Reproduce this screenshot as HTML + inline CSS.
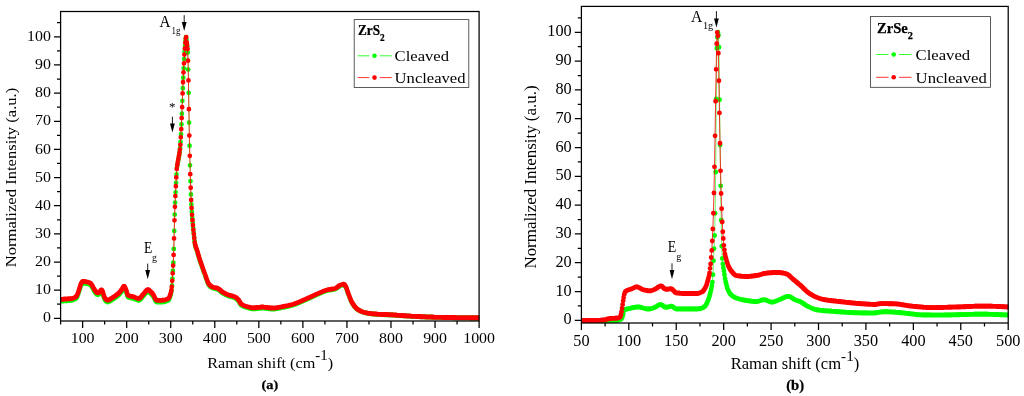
<!DOCTYPE html>
<html lang="en"><head><meta charset="utf-8"><title>Raman spectra of ZrS2 and ZrSe2</title>
<style>html,body{margin:0;padding:0;background:#fff}svg{display:block;will-change:transform}</style></head>
<body>
<svg width="1024" height="396" viewBox="0 0 1024 396" font-family='"Liberation Serif", "DejaVu Serif", serif' fill="#000">
<rect width="1024" height="396" fill="#fff"/>
<defs><clipPath id="ca"><rect x="60.6" y="11.5" width="418.80" height="309.50"/></clipPath><clipPath id="cb"><rect x="581.4" y="6.4" width="427.10" height="316.60"/></clipPath></defs>
<g clip-path="url(#ca)">
<polyline points="60.86,301.17 61.31,301.15 61.76,301.12 62.21,301.09 62.66,301.06 63.11,301.03 63.56,301.00 64.01,300.97 64.46,300.94 64.91,300.91 65.36,300.88 65.81,300.85 66.26,300.82 66.71,300.79 67.16,300.76 67.61,300.73 68.06,300.69 68.51,300.66 68.96,300.62 69.41,300.58 69.86,300.54 70.31,300.49 70.76,300.43 71.21,300.37 71.66,300.30 72.11,300.21 72.56,300.11 73.01,299.98 73.46,299.83 73.91,299.66 74.36,299.45 74.81,299.22 75.26,298.96 75.71,298.67 76.16,298.34 76.61,297.87 77.06,297.03 77.51,295.96 77.96,294.81 78.41,293.55 78.86,292.07 79.31,290.55 79.76,289.15 80.21,287.72 80.66,286.36 81.11,285.30 81.56,284.54 82.01,283.86 82.46,283.36 82.91,283.17 83.36,283.18 83.81,283.22 84.26,283.27 84.71,283.33 85.16,283.40 85.61,283.48 86.06,283.57 86.51,283.65 86.96,283.73 87.41,283.83 87.86,283.94 88.31,284.06 88.76,284.20 89.21,284.36 89.66,284.54 90.11,284.76 90.56,285.04 91.01,285.53 91.46,286.17 91.91,286.89 92.36,287.61 92.81,288.38 93.26,289.27 93.71,290.17 94.16,290.98 94.61,291.62 95.06,292.25 95.51,292.88 95.96,293.47 96.41,293.98 96.86,294.38 97.31,294.63 97.76,294.71 98.21,294.64 98.66,294.47 99.11,294.24 99.56,293.96 100.01,293.51 100.46,292.69 100.91,291.90 101.36,291.62 101.81,291.90 102.26,292.49 102.71,293.23 103.16,294.64 103.61,296.48 104.06,298.09 104.51,299.00 104.96,299.73 105.41,300.39 105.86,300.97 106.31,301.45 106.76,301.79 107.21,301.99 107.66,302.02 108.11,301.96 108.56,301.84 109.01,301.67 109.46,301.44 109.91,301.19 110.36,300.91 110.81,300.61 111.26,300.30 111.71,300.00 112.16,299.71 112.61,299.43 113.06,299.16 113.51,298.88 113.96,298.60 114.41,298.31 114.86,298.02 115.31,297.71 115.76,297.39 116.21,297.07 116.66,296.73 117.11,296.37 117.56,296.00 118.01,295.62 118.46,295.22 118.91,294.80 119.36,294.34 119.81,293.84 120.26,293.28 120.71,292.69 121.16,292.08 121.61,291.45 122.06,290.82 122.51,290.16 122.96,289.30 123.41,288.47 123.86,287.99 124.31,288.09 124.76,288.67 125.21,289.55 125.66,290.54 126.11,291.55 126.56,292.99 127.01,294.60 127.46,296.02 127.91,296.89 128.36,297.17 128.81,297.38 129.26,297.57 129.71,297.72 130.16,297.85 130.61,297.95 131.06,298.05 131.51,298.13 131.96,298.22 132.41,298.31 132.86,298.40 133.31,298.51 133.76,298.64 134.21,298.79 134.66,298.97 135.11,299.17 135.56,299.38 136.01,299.58 136.46,299.78 136.91,299.96 137.36,300.11 137.81,300.24 138.26,300.31 138.71,300.34 139.16,300.26 139.61,300.05 140.06,299.73 140.51,299.31 140.96,298.83 141.41,298.29 141.86,297.73 142.31,297.15 142.76,296.59 143.21,296.07 143.66,295.59 144.11,295.13 144.56,294.60 145.01,294.04 145.46,293.46 145.91,292.90 146.36,292.39 146.81,291.95 147.26,291.61 147.71,291.40 148.16,291.33 148.61,291.50 149.06,291.86 149.51,292.32 149.96,292.79 150.41,293.21 150.86,293.62 151.31,294.05 151.76,294.50 152.21,294.99 152.66,295.51 153.11,296.14 153.56,296.94 154.01,297.85 154.46,298.81 154.91,299.74 155.36,300.59 155.81,301.30 156.26,301.80 156.71,302.02 157.16,302.03 157.61,302.03 158.06,302.03 158.51,302.03 158.96,302.03 159.41,302.03 159.86,302.03 160.31,302.03 160.76,302.03 161.21,302.03 161.66,302.03 162.11,302.02 162.56,302.00 163.01,301.96 163.46,301.91 163.91,301.84 164.36,301.76 164.81,301.66 165.26,301.55 165.71,301.42 166.16,301.27 166.61,301.10 167.06,300.92 167.51,300.73 167.96,300.51 168.41,300.23 168.86,299.68 169.31,298.82 169.76,297.70 170.21,296.37 170.66,294.88 171.11,293.09 171.56,290.37 172.01,285.69 172.46,278.60 172.91,270.90 173.36,262.64 173.81,248.95 174.26,230.92 174.71,214.57 175.16,202.53 175.61,192.32 176.06,182.83 176.51,174.39 176.96,167.55 177.41,165.04 177.86,162.70 178.31,160.13 178.76,157.58 179.21,155.08 179.66,152.04 180.11,148.08 180.56,141.91 181.01,134.22 181.46,124.46 181.91,113.63 182.36,100.81 182.81,88.26 183.26,77.77 183.71,68.37 184.16,59.11 184.61,51.64 185.06,45.79 185.51,40.70 185.96,37.14 186.41,39.68 186.86,43.66 187.31,46.82 187.76,52.54 188.21,69.58 188.66,92.85 189.11,122.54 189.56,145.66 190.01,165.35 190.46,181.13 190.91,194.45 191.36,204.43 191.81,211.78 192.26,217.99 192.71,222.99 193.16,228.12 193.61,232.53 194.06,236.66 194.51,240.97 194.96,244.48 195.41,246.35 195.86,247.77 196.31,249.12 196.76,250.34 197.21,251.68 197.66,253.17 198.11,254.73 198.56,256.32 199.01,257.88 199.46,259.36 199.91,260.76 200.36,262.11 200.81,263.43 201.26,264.73 201.71,266.01 202.16,267.27 202.61,268.54 203.06,269.81 203.51,271.09 203.96,272.38 204.41,273.68 204.86,274.98 205.31,276.26 205.76,277.51 206.21,278.72 206.66,279.93 207.11,281.21 207.56,282.44 208.01,283.53 208.46,284.40 208.91,285.00 209.36,285.55 209.81,286.04 210.26,286.49 210.71,286.88 211.16,287.23 211.61,287.54 212.06,287.80 212.51,288.01 212.96,288.18 213.41,288.33 213.86,288.45 214.31,288.56 214.76,288.66 215.21,288.75 215.66,288.84 216.11,288.94 216.56,289.05 217.01,289.17 217.46,289.32 217.91,289.49 218.36,289.72 218.81,290.01 219.26,290.34 219.71,290.70 220.16,291.09 220.61,291.50 221.06,291.90 221.51,292.30 221.96,292.68 222.41,293.03 222.86,293.33 223.31,293.60 223.76,293.86 224.21,294.11 224.66,294.35 225.11,294.58 225.56,294.80 226.01,295.02 226.46,295.22 226.91,295.42 227.36,295.61 227.81,295.80 228.26,295.97 228.71,296.13 229.16,296.28 229.61,296.41 230.06,296.54 230.51,296.65 230.96,296.76 231.41,296.87 231.86,296.99 232.31,297.10 232.76,297.23 233.21,297.36 233.66,297.50 234.11,297.67 234.56,297.85 235.01,298.05 235.46,298.30 235.91,298.60 236.36,298.94 236.81,299.31 237.26,299.72 237.71,300.16 238.16,300.62 238.61,301.19 239.06,301.90 239.51,302.67 239.96,303.46 240.41,304.19 240.86,304.82 241.31,305.28 241.76,305.58 242.21,305.85 242.66,306.09 243.11,306.32 243.56,306.52 244.01,306.70 244.46,306.87 244.91,307.03 245.36,307.17 245.81,307.31 246.26,307.44 246.71,307.57 247.16,307.70 247.61,307.83 248.06,307.96 248.51,308.10 248.96,308.22 249.41,308.35 249.86,308.46 250.31,308.57 250.76,308.67 251.21,308.76 251.66,308.83 252.11,308.88 252.56,308.92 253.01,308.94 253.46,308.93 253.91,308.92 254.36,308.90 254.81,308.87 255.26,308.83 255.71,308.79 256.16,308.75 256.61,308.70 257.06,308.65 257.51,308.59 257.96,308.54 258.41,308.49 258.86,308.43 259.31,308.38 259.76,308.34 260.21,308.29 260.66,308.26 261.11,308.23 261.56,308.20 262.01,308.19 262.46,308.18 262.91,308.18 263.36,308.20 263.81,308.22 264.26,308.25 264.71,308.29 265.16,308.33 265.61,308.38 266.06,308.44 266.51,308.49 266.96,308.55 267.41,308.61 267.86,308.67 268.31,308.73 268.76,308.79 269.21,308.85 269.66,308.90 270.11,308.95 270.56,308.99 271.01,309.03 271.46,309.06 271.91,309.09 272.36,309.10 272.81,309.11 273.26,309.10 273.71,309.08 274.16,309.05 274.61,309.02 275.06,308.97 275.51,308.91 275.96,308.85 276.41,308.78 276.86,308.70 277.31,308.62 277.76,308.54 278.21,308.45 278.66,308.36 279.11,308.26 279.56,308.17 280.01,308.07 280.46,307.98 280.91,307.88 281.36,307.79 281.81,307.70 282.26,307.62 282.71,307.53 283.16,307.44 283.61,307.36 284.06,307.27 284.51,307.17 284.96,307.08 285.41,306.99 285.86,306.89 286.31,306.79 286.76,306.69 287.21,306.59 287.66,306.48 288.11,306.38 288.56,306.27 289.01,306.16 289.46,306.05 289.91,305.93 290.36,305.82 290.81,305.70 291.26,305.58 291.71,305.45 292.16,305.33 292.61,305.20 293.06,305.06 293.51,304.93 293.96,304.79 294.41,304.64 294.86,304.48 295.31,304.33 295.76,304.16 296.21,303.99 296.66,303.82 297.11,303.64 297.56,303.46 298.01,303.28 298.46,303.09 298.91,302.90 299.36,302.71 299.81,302.52 300.26,302.32 300.71,302.12 301.16,301.92 301.61,301.72 302.06,301.52 302.51,301.32 302.96,301.12 303.41,300.92 303.86,300.72 304.31,300.52 304.76,300.32 305.21,300.12 305.66,299.92 306.11,299.72 306.56,299.53 307.01,299.33 307.46,299.13 307.91,298.93 308.36,298.73 308.81,298.53 309.26,298.32 309.71,298.11 310.16,297.90 310.61,297.69 311.06,297.48 311.51,297.27 311.96,297.06 312.41,296.85 312.86,296.64 313.31,296.43 313.76,296.22 314.21,296.01 314.66,295.80 315.11,295.59 315.56,295.38 316.01,295.18 316.46,294.97 316.91,294.77 317.36,294.57 317.81,294.37 318.26,294.17 318.71,293.97 319.16,293.78 319.61,293.59 320.06,293.40 320.51,293.20 320.96,293.00 321.41,292.80 321.86,292.60 322.31,292.40 322.76,292.20 323.21,292.01 323.66,291.82 324.11,291.63 324.56,291.45 325.01,291.28 325.46,291.11 325.91,290.96 326.36,290.82 326.81,290.68 327.26,290.56 327.71,290.46 328.16,290.36 328.61,290.28 329.06,290.20 329.51,290.13 329.96,290.06 330.41,290.00 330.86,289.93 331.31,289.87 331.76,289.81 332.21,289.74 332.66,289.67 333.11,289.60 333.56,289.51 334.01,289.42 334.46,289.32 334.91,289.20 335.36,289.07 335.81,288.87 336.26,288.61 336.71,288.31 337.16,287.97 337.61,287.62 338.06,287.25 338.51,286.89 338.96,286.54 339.41,286.23 339.86,285.96 340.31,285.75 340.76,285.59 341.21,285.42 341.66,285.27 342.11,285.13 342.56,285.01 343.01,284.92 343.46,284.87 343.91,284.90 344.36,285.21 344.81,285.74 345.26,286.40 345.71,287.10 346.16,287.97 346.61,289.12 347.06,290.43 347.51,291.80 347.96,293.13 348.41,294.32 348.86,295.48 349.31,296.65 349.76,297.82 350.21,298.96 350.66,300.07 351.11,301.10 351.56,302.05 352.01,302.89 352.46,303.62 352.91,304.32 353.36,304.99 353.81,305.63 354.26,306.24 354.71,306.81 355.16,307.35 355.61,307.86 356.06,308.32 356.51,308.74 356.96,309.12 357.41,309.45 357.86,309.75 358.31,310.03 358.76,310.30 359.21,310.55 359.66,310.79 360.11,311.02 360.56,311.25 361.01,311.47 361.46,311.66 361.91,311.85 362.36,312.02 362.81,312.18 363.26,312.32 363.71,312.45 364.16,312.56 364.61,312.67 365.06,312.78 365.51,312.88 365.96,312.97 366.41,313.07 366.86,313.16 367.31,313.25 367.76,313.33 368.21,313.41 368.66,313.48 369.11,313.56 369.56,313.63 370.01,313.69 370.46,313.76 370.91,313.82 371.36,313.88 371.81,313.93 372.26,313.98 372.71,314.03 373.16,314.07 373.61,314.12 374.06,314.16 374.51,314.19 374.96,314.23 375.41,314.26 375.86,314.29 376.31,314.32 376.76,314.35 377.21,314.38 377.66,314.41 378.11,314.43 378.56,314.46 379.01,314.48 379.46,314.50 379.91,314.52 380.36,314.54 380.81,314.56 381.26,314.58 381.71,314.60 382.16,314.62 382.61,314.64 383.06,314.66 383.51,314.67 383.96,314.69 384.41,314.71 384.86,314.73 385.31,314.74 385.76,314.76 386.21,314.78 386.66,314.80 387.11,314.81 387.56,314.83 388.01,314.85 388.46,314.87 388.91,314.89 389.36,314.91 389.81,314.93 390.26,314.95 390.71,314.98 391.16,315.00 391.61,315.03 392.06,315.05 392.51,315.08 392.96,315.11 393.41,315.13 393.86,315.16 394.31,315.19 394.76,315.22 395.21,315.25 395.66,315.28 396.11,315.31 396.56,315.35 397.01,315.38 397.46,315.41 397.91,315.44 398.36,315.48 398.81,315.51 399.26,315.54 399.71,315.58 400.16,315.61 400.61,315.64 401.06,315.68 401.51,315.71 401.96,315.74 402.41,315.77 402.86,315.81 403.31,315.84 403.76,315.87 404.21,315.90 404.66,315.94 405.11,315.97 405.56,316.00 406.01,316.03 406.46,316.06 406.91,316.09 407.36,316.12 407.81,316.14 408.26,316.17 408.71,316.20 409.16,316.22 409.61,316.25 410.06,316.27 410.51,316.30 410.96,316.32 411.41,316.35 411.86,316.37 412.31,316.39 412.76,316.42 413.21,316.44 413.66,316.46 414.11,316.49 414.56,316.51 415.01,316.53 415.46,316.56 415.91,316.58 416.36,316.60 416.81,316.62 417.26,316.65 417.71,316.67 418.16,316.69 418.61,316.71 419.06,316.74 419.51,316.76 419.96,316.78 420.41,316.80 420.86,316.82 421.31,316.84 421.76,316.86 422.21,316.88 422.66,316.90 423.11,316.92 423.56,316.94 424.01,316.96 424.46,316.98 424.91,317.00 425.36,317.02 425.81,317.04 426.26,317.06 426.71,317.07 427.16,317.09 427.61,317.11 428.06,317.13 428.51,317.14 428.96,317.16 429.41,317.17 429.86,317.19 430.31,317.20 430.76,317.22 431.21,317.23 431.66,317.25 432.11,317.26 432.56,317.27 433.01,317.29 433.46,317.30 433.91,317.31 434.36,317.32 434.81,317.33 435.26,317.35 435.71,317.36 436.16,317.37 436.61,317.38 437.06,317.39 437.51,317.40 437.96,317.41 438.41,317.42 438.86,317.43 439.31,317.44 439.76,317.45 440.21,317.46 440.66,317.47 441.11,317.48 441.56,317.49 442.01,317.51 442.46,317.52 442.91,317.53 443.36,317.54 443.81,317.55 444.26,317.56 444.71,317.57 445.16,317.58 445.61,317.59 446.06,317.60 446.51,317.61 446.96,317.62 447.41,317.63 447.86,317.64 448.31,317.65 448.76,317.66 449.21,317.67 449.66,317.68 450.11,317.68 450.56,317.69 451.01,317.70 451.46,317.71 451.91,317.72 452.36,317.73 452.81,317.74 453.26,317.75 453.71,317.76 454.16,317.77 454.61,317.77 455.06,317.78 455.51,317.79 455.96,317.80 456.41,317.81 456.86,317.81 457.31,317.82 457.76,317.83 458.21,317.84 458.66,317.85 459.11,317.85 459.56,317.86 460.01,317.87 460.46,317.87 460.91,317.88 461.36,317.89 461.81,317.89 462.26,317.90 462.71,317.91 463.16,317.91 463.61,317.92 464.06,317.92 464.51,317.93 464.96,317.94 465.41,317.94 465.86,317.95 466.31,317.95 466.76,317.96 467.21,317.96 467.66,317.97 468.11,317.97 468.56,317.97 469.01,317.98 469.46,317.98 469.91,317.99 470.36,317.99 470.81,317.99 471.26,318.00 471.71,318.00 472.16,318.00 472.61,318.00 473.06,318.01 473.51,318.01 473.96,318.01 474.41,318.01 474.86,318.01 475.31,318.02 475.76,318.02 476.21,318.02 476.66,318.02 477.11,318.02 477.56,318.02 478.01,318.02 478.46,318.02 478.91,318.02" fill="none" stroke="#00ff00" stroke-width="0.5" stroke-linejoin="round"/>
<path d="M60.86 301.17h0M61.31 301.15h0M61.76 301.12h0M62.21 301.09h0M62.66 301.06h0M63.11 301.03h0M63.56 301.00h0M64.01 300.97h0M64.46 300.94h0M64.91 300.91h0M65.36 300.88h0M65.81 300.85h0M66.26 300.82h0M66.71 300.79h0M67.16 300.76h0M67.61 300.73h0M68.06 300.69h0M68.51 300.66h0M68.96 300.62h0M69.41 300.58h0M69.86 300.54h0M70.31 300.49h0M70.76 300.43h0M71.21 300.37h0M71.66 300.30h0M72.11 300.21h0M72.56 300.11h0M73.01 299.98h0M73.46 299.83h0M73.91 299.66h0M74.36 299.45h0M74.81 299.22h0M75.26 298.96h0M75.71 298.67h0M76.16 298.34h0M76.61 297.87h0M77.06 297.03h0M77.51 295.96h0M77.96 294.81h0M78.41 293.55h0M78.86 292.07h0M79.31 290.55h0M79.76 289.15h0M80.21 287.72h0M80.66 286.36h0M81.11 285.30h0M81.56 284.54h0M82.01 283.86h0M82.46 283.36h0M82.91 283.17h0M83.36 283.18h0M83.81 283.22h0M84.26 283.27h0M84.71 283.33h0M85.16 283.40h0M85.61 283.48h0M86.06 283.57h0M86.51 283.65h0M86.96 283.73h0M87.41 283.83h0M87.86 283.94h0M88.31 284.06h0M88.76 284.20h0M89.21 284.36h0M89.66 284.54h0M90.11 284.76h0M90.56 285.04h0M91.01 285.53h0M91.46 286.17h0M91.91 286.89h0M92.36 287.61h0M92.81 288.38h0M93.26 289.27h0M93.71 290.17h0M94.16 290.98h0M94.61 291.62h0M95.06 292.25h0M95.51 292.88h0M95.96 293.47h0M96.41 293.98h0M96.86 294.38h0M97.31 294.63h0M97.76 294.71h0M98.21 294.64h0M98.66 294.47h0M99.11 294.24h0M99.56 293.96h0M100.01 293.51h0M100.46 292.69h0M100.91 291.90h0M101.36 291.62h0M101.81 291.90h0M102.26 292.49h0M102.71 293.23h0M103.16 294.64h0M103.61 296.48h0M104.06 298.09h0M104.51 299.00h0M104.96 299.73h0M105.41 300.39h0M105.86 300.97h0M106.31 301.45h0M106.76 301.79h0M107.21 301.99h0M107.66 302.02h0M108.11 301.96h0M108.56 301.84h0M109.01 301.67h0M109.46 301.44h0M109.91 301.19h0M110.36 300.91h0M110.81 300.61h0M111.26 300.30h0M111.71 300.00h0M112.16 299.71h0M112.61 299.43h0M113.06 299.16h0M113.51 298.88h0M113.96 298.60h0M114.41 298.31h0M114.86 298.02h0M115.31 297.71h0M115.76 297.39h0M116.21 297.07h0M116.66 296.73h0M117.11 296.37h0M117.56 296.00h0M118.01 295.62h0M118.46 295.22h0M118.91 294.80h0M119.36 294.34h0M119.81 293.84h0M120.26 293.28h0M120.71 292.69h0M121.16 292.08h0M121.61 291.45h0M122.06 290.82h0M122.51 290.16h0M122.96 289.30h0M123.41 288.47h0M123.86 287.99h0M124.31 288.09h0M124.76 288.67h0M125.21 289.55h0M125.66 290.54h0M126.11 291.55h0M126.56 292.99h0M127.01 294.60h0M127.46 296.02h0M127.91 296.89h0M128.36 297.17h0M128.81 297.38h0M129.26 297.57h0M129.71 297.72h0M130.16 297.85h0M130.61 297.95h0M131.06 298.05h0M131.51 298.13h0M131.96 298.22h0M132.41 298.31h0M132.86 298.40h0M133.31 298.51h0M133.76 298.64h0M134.21 298.79h0M134.66 298.97h0M135.11 299.17h0M135.56 299.38h0M136.01 299.58h0M136.46 299.78h0M136.91 299.96h0M137.36 300.11h0M137.81 300.24h0M138.26 300.31h0M138.71 300.34h0M139.16 300.26h0M139.61 300.05h0M140.06 299.73h0M140.51 299.31h0M140.96 298.83h0M141.41 298.29h0M141.86 297.73h0M142.31 297.15h0M142.76 296.59h0M143.21 296.07h0M143.66 295.59h0M144.11 295.13h0M144.56 294.60h0M145.01 294.04h0M145.46 293.46h0M145.91 292.90h0M146.36 292.39h0M146.81 291.95h0M147.26 291.61h0M147.71 291.40h0M148.16 291.33h0M148.61 291.50h0M149.06 291.86h0M149.51 292.32h0M149.96 292.79h0M150.41 293.21h0M150.86 293.62h0M151.31 294.05h0M151.76 294.50h0M152.21 294.99h0M152.66 295.51h0M153.11 296.14h0M153.56 296.94h0M154.01 297.85h0M154.46 298.81h0M154.91 299.74h0M155.36 300.59h0M155.81 301.30h0M156.26 301.80h0M156.71 302.02h0M157.16 302.03h0M157.61 302.03h0M158.06 302.03h0M158.51 302.03h0M158.96 302.03h0M159.41 302.03h0M159.86 302.03h0M160.31 302.03h0M160.76 302.03h0M161.21 302.03h0M161.66 302.03h0M162.11 302.02h0M162.56 302.00h0M163.01 301.96h0M163.46 301.91h0M163.91 301.84h0M164.36 301.76h0M164.81 301.66h0M165.26 301.55h0M165.71 301.42h0M166.16 301.27h0M166.61 301.10h0M167.06 300.92h0M167.51 300.73h0M167.96 300.51h0M168.41 300.23h0M168.86 299.68h0M169.31 298.82h0M169.76 297.70h0M170.21 296.37h0M170.66 294.88h0M171.11 293.09h0M171.56 290.37h0M172.01 285.69h0M172.46 278.60h0M172.91 270.90h0M173.36 262.64h0M173.81 248.95h0M174.26 230.92h0M174.71 214.57h0M175.16 202.53h0M175.61 192.32h0M176.06 182.83h0M176.51 174.39h0M176.96 167.55h0M177.41 165.04h0M177.86 162.70h0M178.31 160.13h0M178.76 157.58h0M179.21 155.08h0M179.66 152.04h0M180.11 148.08h0M180.56 141.91h0M181.01 134.22h0M181.46 124.46h0M181.91 113.63h0M182.36 100.81h0M182.81 88.26h0M183.26 77.77h0M183.71 68.37h0M184.16 59.11h0M184.61 51.64h0M185.06 45.79h0M185.51 40.70h0M185.96 37.14h0M186.41 39.68h0M186.86 43.66h0M187.31 46.82h0M187.76 52.54h0M188.21 69.58h0M188.66 92.85h0M189.11 122.54h0M189.56 145.66h0M190.01 165.35h0M190.46 181.13h0M190.91 194.45h0M191.36 204.43h0M191.81 211.78h0M192.26 217.99h0M192.71 222.99h0M193.16 228.12h0M193.61 232.53h0M194.06 236.66h0M194.51 240.97h0M194.96 244.48h0M195.41 246.35h0M195.86 247.77h0M196.31 249.12h0M196.76 250.34h0M197.21 251.68h0M197.66 253.17h0M198.11 254.73h0M198.56 256.32h0M199.01 257.88h0M199.46 259.36h0M199.91 260.76h0M200.36 262.11h0M200.81 263.43h0M201.26 264.73h0M201.71 266.01h0M202.16 267.27h0M202.61 268.54h0M203.06 269.81h0M203.51 271.09h0M203.96 272.38h0M204.41 273.68h0M204.86 274.98h0M205.31 276.26h0M205.76 277.51h0M206.21 278.72h0M206.66 279.93h0M207.11 281.21h0M207.56 282.44h0M208.01 283.53h0M208.46 284.40h0M208.91 285.00h0M209.36 285.55h0M209.81 286.04h0M210.26 286.49h0M210.71 286.88h0M211.16 287.23h0M211.61 287.54h0M212.06 287.80h0M212.51 288.01h0M212.96 288.18h0M213.41 288.33h0M213.86 288.45h0M214.31 288.56h0M214.76 288.66h0M215.21 288.75h0M215.66 288.84h0M216.11 288.94h0M216.56 289.05h0M217.01 289.17h0M217.46 289.32h0M217.91 289.49h0M218.36 289.72h0M218.81 290.01h0M219.26 290.34h0M219.71 290.70h0M220.16 291.09h0M220.61 291.50h0M221.06 291.90h0M221.51 292.30h0M221.96 292.68h0M222.41 293.03h0M222.86 293.33h0M223.31 293.60h0M223.76 293.86h0M224.21 294.11h0M224.66 294.35h0M225.11 294.58h0M225.56 294.80h0M226.01 295.02h0M226.46 295.22h0M226.91 295.42h0M227.36 295.61h0M227.81 295.80h0M228.26 295.97h0M228.71 296.13h0M229.16 296.28h0M229.61 296.41h0M230.06 296.54h0M230.51 296.65h0M230.96 296.76h0M231.41 296.87h0M231.86 296.99h0M232.31 297.10h0M232.76 297.23h0M233.21 297.36h0M233.66 297.50h0M234.11 297.67h0M234.56 297.85h0M235.01 298.05h0M235.46 298.30h0M235.91 298.60h0M236.36 298.94h0M236.81 299.31h0M237.26 299.72h0M237.71 300.16h0M238.16 300.62h0M238.61 301.19h0M239.06 301.90h0M239.51 302.67h0M239.96 303.46h0M240.41 304.19h0M240.86 304.82h0M241.31 305.28h0M241.76 305.58h0M242.21 305.85h0M242.66 306.09h0M243.11 306.32h0M243.56 306.52h0M244.01 306.70h0M244.46 306.87h0M244.91 307.03h0M245.36 307.17h0M245.81 307.31h0M246.26 307.44h0M246.71 307.57h0M247.16 307.70h0M247.61 307.83h0M248.06 307.96h0M248.51 308.10h0M248.96 308.22h0M249.41 308.35h0M249.86 308.46h0M250.31 308.57h0M250.76 308.67h0M251.21 308.76h0M251.66 308.83h0M252.11 308.88h0M252.56 308.92h0M253.01 308.94h0M253.46 308.93h0M253.91 308.92h0M254.36 308.90h0M254.81 308.87h0M255.26 308.83h0M255.71 308.79h0M256.16 308.75h0M256.61 308.70h0M257.06 308.65h0M257.51 308.59h0M257.96 308.54h0M258.41 308.49h0M258.86 308.43h0M259.31 308.38h0M259.76 308.34h0M260.21 308.29h0M260.66 308.26h0M261.11 308.23h0M261.56 308.20h0M262.01 308.19h0M262.46 308.18h0M262.91 308.18h0M263.36 308.20h0M263.81 308.22h0M264.26 308.25h0M264.71 308.29h0M265.16 308.33h0M265.61 308.38h0M266.06 308.44h0M266.51 308.49h0M266.96 308.55h0M267.41 308.61h0M267.86 308.67h0M268.31 308.73h0M268.76 308.79h0M269.21 308.85h0M269.66 308.90h0M270.11 308.95h0M270.56 308.99h0M271.01 309.03h0M271.46 309.06h0M271.91 309.09h0M272.36 309.10h0M272.81 309.11h0M273.26 309.10h0M273.71 309.08h0M274.16 309.05h0M274.61 309.02h0M275.06 308.97h0M275.51 308.91h0M275.96 308.85h0M276.41 308.78h0M276.86 308.70h0M277.31 308.62h0M277.76 308.54h0M278.21 308.45h0M278.66 308.36h0M279.11 308.26h0M279.56 308.17h0M280.01 308.07h0M280.46 307.98h0M280.91 307.88h0M281.36 307.79h0M281.81 307.70h0M282.26 307.62h0M282.71 307.53h0M283.16 307.44h0M283.61 307.36h0M284.06 307.27h0M284.51 307.17h0M284.96 307.08h0M285.41 306.99h0M285.86 306.89h0M286.31 306.79h0M286.76 306.69h0M287.21 306.59h0M287.66 306.48h0M288.11 306.38h0M288.56 306.27h0M289.01 306.16h0M289.46 306.05h0M289.91 305.93h0M290.36 305.82h0M290.81 305.70h0M291.26 305.58h0M291.71 305.45h0M292.16 305.33h0M292.61 305.20h0M293.06 305.06h0M293.51 304.93h0M293.96 304.79h0M294.41 304.64h0M294.86 304.48h0M295.31 304.33h0M295.76 304.16h0M296.21 303.99h0M296.66 303.82h0M297.11 303.64h0M297.56 303.46h0M298.01 303.28h0M298.46 303.09h0M298.91 302.90h0M299.36 302.71h0M299.81 302.52h0M300.26 302.32h0M300.71 302.12h0M301.16 301.92h0M301.61 301.72h0M302.06 301.52h0M302.51 301.32h0M302.96 301.12h0M303.41 300.92h0M303.86 300.72h0M304.31 300.52h0M304.76 300.32h0M305.21 300.12h0M305.66 299.92h0M306.11 299.72h0M306.56 299.53h0M307.01 299.33h0M307.46 299.13h0M307.91 298.93h0M308.36 298.73h0M308.81 298.53h0M309.26 298.32h0M309.71 298.11h0M310.16 297.90h0M310.61 297.69h0M311.06 297.48h0M311.51 297.27h0M311.96 297.06h0M312.41 296.85h0M312.86 296.64h0M313.31 296.43h0M313.76 296.22h0M314.21 296.01h0M314.66 295.80h0M315.11 295.59h0M315.56 295.38h0M316.01 295.18h0M316.46 294.97h0M316.91 294.77h0M317.36 294.57h0M317.81 294.37h0M318.26 294.17h0M318.71 293.97h0M319.16 293.78h0M319.61 293.59h0M320.06 293.40h0M320.51 293.20h0M320.96 293.00h0M321.41 292.80h0M321.86 292.60h0M322.31 292.40h0M322.76 292.20h0M323.21 292.01h0M323.66 291.82h0M324.11 291.63h0M324.56 291.45h0M325.01 291.28h0M325.46 291.11h0M325.91 290.96h0M326.36 290.82h0M326.81 290.68h0M327.26 290.56h0M327.71 290.46h0M328.16 290.36h0M328.61 290.28h0M329.06 290.20h0M329.51 290.13h0M329.96 290.06h0M330.41 290.00h0M330.86 289.93h0M331.31 289.87h0M331.76 289.81h0M332.21 289.74h0M332.66 289.67h0M333.11 289.60h0M333.56 289.51h0M334.01 289.42h0M334.46 289.32h0M334.91 289.20h0M335.36 289.07h0M335.81 288.87h0M336.26 288.61h0M336.71 288.31h0M337.16 287.97h0M337.61 287.62h0M338.06 287.25h0M338.51 286.89h0M338.96 286.54h0M339.41 286.23h0M339.86 285.96h0M340.31 285.75h0M340.76 285.59h0M341.21 285.42h0M341.66 285.27h0M342.11 285.13h0M342.56 285.01h0M343.01 284.92h0M343.46 284.87h0M343.91 284.90h0M344.36 285.21h0M344.81 285.74h0M345.26 286.40h0M345.71 287.10h0M346.16 287.97h0M346.61 289.12h0M347.06 290.43h0M347.51 291.80h0M347.96 293.13h0M348.41 294.32h0M348.86 295.48h0M349.31 296.65h0M349.76 297.82h0M350.21 298.96h0M350.66 300.07h0M351.11 301.10h0M351.56 302.05h0M352.01 302.89h0M352.46 303.62h0M352.91 304.32h0M353.36 304.99h0M353.81 305.63h0M354.26 306.24h0M354.71 306.81h0M355.16 307.35h0M355.61 307.86h0M356.06 308.32h0M356.51 308.74h0M356.96 309.12h0M357.41 309.45h0M357.86 309.75h0M358.31 310.03h0M358.76 310.30h0M359.21 310.55h0M359.66 310.79h0M360.11 311.02h0M360.56 311.25h0M361.01 311.47h0M361.46 311.66h0M361.91 311.85h0M362.36 312.02h0M362.81 312.18h0M363.26 312.32h0M363.71 312.45h0M364.16 312.56h0M364.61 312.67h0M365.06 312.78h0M365.51 312.88h0M365.96 312.97h0M366.41 313.07h0M366.86 313.16h0M367.31 313.25h0M367.76 313.33h0M368.21 313.41h0M368.66 313.48h0M369.11 313.56h0M369.56 313.63h0M370.01 313.69h0M370.46 313.76h0M370.91 313.82h0M371.36 313.88h0M371.81 313.93h0M372.26 313.98h0M372.71 314.03h0M373.16 314.07h0M373.61 314.12h0M374.06 314.16h0M374.51 314.19h0M374.96 314.23h0M375.41 314.26h0M375.86 314.29h0M376.31 314.32h0M376.76 314.35h0M377.21 314.38h0M377.66 314.41h0M378.11 314.43h0M378.56 314.46h0M379.01 314.48h0M379.46 314.50h0M379.91 314.52h0M380.36 314.54h0M380.81 314.56h0M381.26 314.58h0M381.71 314.60h0M382.16 314.62h0M382.61 314.64h0M383.06 314.66h0M383.51 314.67h0M383.96 314.69h0M384.41 314.71h0M384.86 314.73h0M385.31 314.74h0M385.76 314.76h0M386.21 314.78h0M386.66 314.80h0M387.11 314.81h0M387.56 314.83h0M388.01 314.85h0M388.46 314.87h0M388.91 314.89h0M389.36 314.91h0M389.81 314.93h0M390.26 314.95h0M390.71 314.98h0M391.16 315.00h0M391.61 315.03h0M392.06 315.05h0M392.51 315.08h0M392.96 315.11h0M393.41 315.13h0M393.86 315.16h0M394.31 315.19h0M394.76 315.22h0M395.21 315.25h0M395.66 315.28h0M396.11 315.31h0M396.56 315.35h0M397.01 315.38h0M397.46 315.41h0M397.91 315.44h0M398.36 315.48h0M398.81 315.51h0M399.26 315.54h0M399.71 315.58h0M400.16 315.61h0M400.61 315.64h0M401.06 315.68h0M401.51 315.71h0M401.96 315.74h0M402.41 315.77h0M402.86 315.81h0M403.31 315.84h0M403.76 315.87h0M404.21 315.90h0M404.66 315.94h0M405.11 315.97h0M405.56 316.00h0M406.01 316.03h0M406.46 316.06h0M406.91 316.09h0M407.36 316.12h0M407.81 316.14h0M408.26 316.17h0M408.71 316.20h0M409.16 316.22h0M409.61 316.25h0M410.06 316.27h0M410.51 316.30h0M410.96 316.32h0M411.41 316.35h0M411.86 316.37h0M412.31 316.39h0M412.76 316.42h0M413.21 316.44h0M413.66 316.46h0M414.11 316.49h0M414.56 316.51h0M415.01 316.53h0M415.46 316.56h0M415.91 316.58h0M416.36 316.60h0M416.81 316.62h0M417.26 316.65h0M417.71 316.67h0M418.16 316.69h0M418.61 316.71h0M419.06 316.74h0M419.51 316.76h0M419.96 316.78h0M420.41 316.80h0M420.86 316.82h0M421.31 316.84h0M421.76 316.86h0M422.21 316.88h0M422.66 316.90h0M423.11 316.92h0M423.56 316.94h0M424.01 316.96h0M424.46 316.98h0M424.91 317.00h0M425.36 317.02h0M425.81 317.04h0M426.26 317.06h0M426.71 317.07h0M427.16 317.09h0M427.61 317.11h0M428.06 317.13h0M428.51 317.14h0M428.96 317.16h0M429.41 317.17h0M429.86 317.19h0M430.31 317.20h0M430.76 317.22h0M431.21 317.23h0M431.66 317.25h0M432.11 317.26h0M432.56 317.27h0M433.01 317.29h0M433.46 317.30h0M433.91 317.31h0M434.36 317.32h0M434.81 317.33h0M435.26 317.35h0M435.71 317.36h0M436.16 317.37h0M436.61 317.38h0M437.06 317.39h0M437.51 317.40h0M437.96 317.41h0M438.41 317.42h0M438.86 317.43h0M439.31 317.44h0M439.76 317.45h0M440.21 317.46h0M440.66 317.47h0M441.11 317.48h0M441.56 317.49h0M442.01 317.51h0M442.46 317.52h0M442.91 317.53h0M443.36 317.54h0M443.81 317.55h0M444.26 317.56h0M444.71 317.57h0M445.16 317.58h0M445.61 317.59h0M446.06 317.60h0M446.51 317.61h0M446.96 317.62h0M447.41 317.63h0M447.86 317.64h0M448.31 317.65h0M448.76 317.66h0M449.21 317.67h0M449.66 317.68h0M450.11 317.68h0M450.56 317.69h0M451.01 317.70h0M451.46 317.71h0M451.91 317.72h0M452.36 317.73h0M452.81 317.74h0M453.26 317.75h0M453.71 317.76h0M454.16 317.77h0M454.61 317.77h0M455.06 317.78h0M455.51 317.79h0M455.96 317.80h0M456.41 317.81h0M456.86 317.81h0M457.31 317.82h0M457.76 317.83h0M458.21 317.84h0M458.66 317.85h0M459.11 317.85h0M459.56 317.86h0M460.01 317.87h0M460.46 317.87h0M460.91 317.88h0M461.36 317.89h0M461.81 317.89h0M462.26 317.90h0M462.71 317.91h0M463.16 317.91h0M463.61 317.92h0M464.06 317.92h0M464.51 317.93h0M464.96 317.94h0M465.41 317.94h0M465.86 317.95h0M466.31 317.95h0M466.76 317.96h0M467.21 317.96h0M467.66 317.97h0M468.11 317.97h0M468.56 317.97h0M469.01 317.98h0M469.46 317.98h0M469.91 317.99h0M470.36 317.99h0M470.81 317.99h0M471.26 318.00h0M471.71 318.00h0M472.16 318.00h0M472.61 318.00h0M473.06 318.01h0M473.51 318.01h0M473.96 318.01h0M474.41 318.01h0M474.86 318.01h0M475.31 318.02h0M475.76 318.02h0M476.21 318.02h0M476.66 318.02h0M477.11 318.02h0M477.56 318.02h0M478.01 318.02h0M478.46 318.02h0M478.91 318.02h0" fill="none" stroke="#00ff00" stroke-width="4.8" stroke-linecap="round"/>

<polyline points="60.65,299.44 61.10,299.41 61.55,299.39 62.00,299.36 62.45,299.33 62.90,299.30 63.35,299.27 63.80,299.24 64.25,299.21 64.70,299.18 65.15,299.15 65.60,299.12 66.05,299.09 66.50,299.06 66.95,299.03 67.40,299.00 67.85,298.96 68.30,298.93 68.75,298.89 69.20,298.86 69.65,298.81 70.10,298.76 70.55,298.71 71.00,298.65 71.45,298.59 71.90,298.51 72.35,298.41 72.80,298.30 73.25,298.16 73.70,298.00 74.15,297.81 74.60,297.59 75.05,297.34 75.50,297.06 75.95,296.75 76.40,296.39 76.85,295.72 77.30,294.74 77.75,293.60 78.20,292.43 78.65,291.03 79.10,289.51 79.55,288.05 80.00,286.65 80.45,285.23 80.90,284.00 81.35,283.15 81.80,282.42 82.25,281.81 82.70,281.46 83.15,281.43 83.60,281.45 84.05,281.50 84.50,281.55 84.95,281.62 85.40,281.70 85.85,281.78 86.30,281.86 86.75,281.95 87.20,282.04 87.65,282.14 88.10,282.25 88.55,282.38 89.00,282.53 89.45,282.71 89.90,282.91 90.35,283.14 90.80,283.53 91.25,284.11 91.70,284.80 92.15,285.53 92.60,286.26 93.05,287.10 93.50,288.01 93.95,288.87 94.40,289.59 94.85,290.21 95.30,290.84 95.75,291.45 96.20,292.01 96.65,292.46 97.10,292.79 97.55,292.95 98.00,292.94 98.45,292.81 98.90,292.61 99.35,292.35 99.80,292.04 100.25,291.35 100.70,290.49 101.15,289.92 101.60,289.97 102.05,290.44 102.50,291.12 102.95,292.15 103.40,293.86 103.85,295.66 104.30,296.91 104.75,297.65 105.20,298.34 105.65,298.96 106.10,299.49 106.55,299.90 107.00,300.17 107.45,300.28 107.90,300.26 108.35,300.16 108.80,300.01 109.25,299.81 109.70,299.57 110.15,299.30 110.60,299.00 111.05,298.70 111.50,298.40 111.95,298.10 112.40,297.81 112.85,297.54 113.30,297.27 113.75,296.99 114.20,296.70 114.65,296.41 115.10,296.11 115.55,295.80 116.00,295.48 116.45,295.14 116.90,294.79 117.35,294.43 117.80,294.05 118.25,293.66 118.70,293.25 119.15,292.82 119.60,292.33 120.05,291.80 120.50,291.23 120.95,290.62 121.40,290.00 121.85,289.37 122.30,288.74 122.75,287.97 123.20,287.09 123.65,286.41 124.10,286.22 124.55,286.60 125.00,287.37 125.45,288.33 125.90,289.31 126.35,290.53 126.80,292.10 127.25,293.66 127.70,294.83 128.15,295.31 128.60,295.54 129.05,295.74 129.50,295.90 129.95,296.04 130.40,296.16 130.85,296.26 131.30,296.35 131.75,296.43 132.20,296.52 132.65,296.61 133.10,296.71 133.55,296.83 134.00,296.97 134.45,297.14 134.90,297.33 135.35,297.54 135.80,297.74 136.25,297.94 136.70,298.13 137.15,298.30 137.60,298.44 138.05,298.54 138.50,298.59 138.95,298.57 139.40,298.42 139.85,298.15 140.30,297.77 140.75,297.32 141.20,296.80 141.65,296.25 142.10,295.68 142.55,295.11 143.00,294.56 143.45,294.06 143.90,293.61 144.35,293.11 144.80,292.56 145.25,291.98 145.70,291.42 146.15,290.88 146.60,290.40 147.05,290.01 147.50,289.73 147.95,289.60 148.40,289.65 148.85,289.93 149.30,290.35 149.75,290.83 150.20,291.28 150.65,291.68 151.10,292.10 151.55,292.54 152.00,293.01 152.45,293.51 152.90,294.07 153.35,294.80 153.80,295.67 154.25,296.61 154.70,297.56 155.15,298.46 155.60,299.25 156.05,299.85 156.50,300.21 156.95,300.28 157.40,300.28 157.85,300.28 158.30,300.28 158.75,300.28 159.20,300.28 159.65,300.28 160.10,300.28 160.55,300.28 161.00,300.28 161.45,300.28 161.90,300.28 162.35,300.27 162.80,300.24 163.25,300.19 163.70,300.13 164.15,300.06 164.60,299.97 165.05,299.86 165.50,299.73 165.95,299.59 166.40,299.44 166.85,299.26 167.30,299.08 167.75,298.87 168.20,298.65 168.65,298.30 169.10,297.63 169.55,296.68 170.00,295.49 170.45,294.12 170.90,292.60 171.35,290.40 171.80,286.89 172.25,280.79 172.70,273.35 173.15,265.60 173.60,254.97 174.05,238.47 174.50,220.34 174.95,206.83 175.40,196.11 175.85,186.25 176.30,177.47 176.75,168.97 177.20,165.31 177.65,163.18 178.10,160.66 178.55,158.13 179.00,155.68 179.45,153.01 179.90,149.53 180.35,144.80 180.80,137.30 181.25,129.19 181.70,118.09 182.15,107.17 182.60,93.43 183.05,82.24 183.50,72.42 183.95,63.36 184.40,54.57 184.85,48.41 185.30,42.75 185.75,38.54 186.20,37.20 186.65,42.25 187.10,45.06 187.55,49.04 188.00,60.70 188.45,80.47 188.90,109.15 189.35,135.61 189.80,155.82 190.25,174.21 190.70,187.76 191.15,200.02 191.60,207.95 192.05,214.79 192.50,220.13 192.95,225.18 193.40,229.92 193.85,234.10 194.30,238.16 194.75,242.43 195.20,244.79 195.65,246.31 196.10,247.67 196.55,248.92 197.00,250.18 197.45,251.61 197.90,253.14 198.35,254.72 198.80,256.30 199.25,257.82 199.70,259.24 200.15,260.61 200.60,261.94 201.05,263.25 201.50,264.53 201.95,265.80 202.40,267.06 202.85,268.33 203.30,269.60 203.75,270.88 204.20,272.18 204.65,273.48 205.10,274.76 205.55,276.02 206.00,277.25 206.45,278.44 206.90,279.70 207.35,280.96 207.80,282.13 208.25,283.11 208.70,283.81 209.15,284.37 209.60,284.89 210.05,285.35 210.50,285.77 210.95,286.14 211.40,286.46 211.85,286.74 212.30,286.97 212.75,287.15 213.20,287.31 213.65,287.44 214.10,287.55 214.55,287.65 215.00,287.74 215.45,287.83 215.90,287.92 216.35,288.02 216.80,288.13 217.25,288.27 217.70,288.42 218.15,288.62 218.60,288.88 219.05,289.18 219.50,289.53 219.95,289.91 220.40,290.31 220.85,290.71 221.30,291.11 221.75,291.50 222.20,291.86 222.65,292.18 223.10,292.46 223.55,292.72 224.00,292.97 224.45,293.21 224.90,293.44 225.35,293.67 225.80,293.88 226.25,294.09 226.70,294.29 227.15,294.48 227.60,294.67 228.05,294.84 228.50,295.01 228.95,295.16 229.40,295.29 229.85,295.42 230.30,295.54 230.75,295.65 231.20,295.75 231.65,295.86 232.10,295.97 232.55,296.09 233.00,296.21 233.45,296.35 233.90,296.50 234.35,296.67 234.80,296.86 235.25,297.08 235.70,297.35 236.15,297.67 236.60,298.03 237.05,298.42 237.50,298.84 237.95,299.29 238.40,299.79 238.85,300.44 239.30,301.18 239.75,301.97 240.20,302.74 240.65,303.42 241.10,303.97 241.55,304.33 242.00,304.61 242.45,304.87 242.90,305.10 243.35,305.32 243.80,305.51 244.25,305.69 244.70,305.85 245.15,306.01 245.60,306.15 246.05,306.29 246.50,306.42 246.95,306.55 247.40,306.68 247.85,306.82 248.30,306.95 248.75,307.09 249.20,307.22 249.65,307.34 250.10,307.45 250.55,307.56 251.00,307.65 251.45,307.73 251.90,307.80 252.35,307.85 252.80,307.88 253.25,307.88 253.70,307.88 254.15,307.86 254.60,307.84 255.05,307.81 255.50,307.77 255.95,307.73 256.40,307.69 256.85,307.64 257.30,307.59 257.75,307.54 258.20,307.49 258.65,307.44 259.10,307.39 259.55,307.34 260.00,307.30 260.45,307.26 260.90,307.23 261.35,307.21 261.80,307.19 262.25,307.18 262.70,307.18 263.15,307.20 263.60,307.22 264.05,307.25 264.50,307.28 264.95,307.33 265.40,307.38 265.85,307.43 266.30,307.49 266.75,307.55 267.20,307.61 267.65,307.67 268.10,307.74 268.55,307.80 269.00,307.86 269.45,307.92 269.90,307.97 270.35,308.02 270.80,308.06 271.25,308.10 271.70,308.13 272.15,308.15 272.60,308.16 273.05,308.17 273.50,308.16 273.95,308.13 274.40,308.10 274.85,308.06 275.30,308.01 275.75,307.96 276.20,307.89 276.65,307.82 277.10,307.74 277.55,307.66 278.00,307.58 278.45,307.49 278.90,307.40 279.35,307.31 279.80,307.21 280.25,307.12 280.70,307.03 281.15,306.94 281.60,306.85 282.05,306.77 282.50,306.68 282.95,306.60 283.40,306.52 283.85,306.43 284.30,306.34 284.75,306.25 285.20,306.16 285.65,306.07 286.10,305.97 286.55,305.87 287.00,305.78 287.45,305.67 287.90,305.57 288.35,305.47 288.80,305.36 289.25,305.25 289.70,305.14 290.15,305.03 290.60,304.91 291.05,304.79 291.50,304.67 291.95,304.55 292.40,304.43 292.85,304.30 293.30,304.17 293.75,304.03 294.20,303.89 294.65,303.74 295.10,303.58 295.55,303.43 296.00,303.26 296.45,303.09 296.90,302.92 297.35,302.75 297.80,302.57 298.25,302.38 298.70,302.20 299.15,302.01 299.60,301.82 300.05,301.62 300.50,301.43 300.95,301.23 301.40,301.03 301.85,300.84 302.30,300.64 302.75,300.44 303.20,300.24 303.65,300.04 304.10,299.84 304.55,299.64 305.00,299.44 305.45,299.24 305.90,299.05 306.35,298.86 306.80,298.66 307.25,298.47 307.70,298.27 308.15,298.07 308.60,297.87 309.05,297.66 309.50,297.46 309.95,297.25 310.40,297.04 310.85,296.84 311.30,296.63 311.75,296.42 312.20,296.21 312.65,296.00 313.10,295.79 313.55,295.58 314.00,295.37 314.45,295.16 314.90,294.95 315.35,294.75 315.80,294.54 316.25,294.34 316.70,294.14 317.15,293.94 317.60,293.74 318.05,293.54 318.50,293.35 318.95,293.15 319.40,292.96 319.85,292.78 320.30,292.58 320.75,292.38 321.20,292.19 321.65,291.99 322.10,291.79 322.55,291.59 323.00,291.40 323.45,291.20 323.90,291.02 324.35,290.84 324.80,290.66 325.25,290.50 325.70,290.34 326.15,290.19 326.60,290.06 327.05,289.93 327.50,289.82 327.95,289.72 328.40,289.63 328.85,289.55 329.30,289.48 329.75,289.41 330.20,289.35 330.65,289.29 331.10,289.23 331.55,289.17 332.00,289.11 332.45,289.04 332.90,288.97 333.35,288.89 333.80,288.80 334.25,288.71 334.70,288.60 335.15,288.48 335.60,288.32 336.05,288.09 336.50,287.81 336.95,287.49 337.40,287.14 337.85,286.77 338.30,286.41 338.75,286.06 339.20,285.73 339.65,285.44 340.10,285.21 340.55,285.03 341.00,284.87 341.45,284.71 341.90,284.56 342.35,284.43 342.80,284.33 343.25,284.26 343.70,284.24 344.15,284.41 344.60,284.85 345.05,285.47 345.50,286.17 345.95,286.94 346.40,287.98 346.85,289.24 347.30,290.61 347.75,291.99 348.20,293.27 348.65,294.43 349.10,295.61 349.55,296.80 350.00,297.97 350.45,299.11 350.90,300.20 351.35,301.20 351.80,302.11 352.25,302.90 352.70,303.62 353.15,304.32 353.60,304.99 354.05,305.63 354.50,306.23 354.95,306.81 355.40,307.34 355.85,307.84 356.30,308.29 356.75,308.70 357.20,309.07 357.65,309.40 358.10,309.70 358.55,309.99 359.00,310.26 359.45,310.52 359.90,310.77 360.35,311.01 360.80,311.23 361.25,311.43 361.70,311.63 362.15,311.81 362.60,311.97 363.05,312.12 363.50,312.26 363.95,312.38 364.40,312.49 364.85,312.59 365.30,312.70 365.75,312.80 366.20,312.89 366.65,312.98 367.10,313.07 367.55,313.16 368.00,313.24 368.45,313.32 368.90,313.39 369.35,313.47 369.80,313.53 370.25,313.60 370.70,313.66 371.15,313.72 371.60,313.78 372.05,313.83 372.50,313.88 372.95,313.93 373.40,313.97 373.85,314.01 374.30,314.05 374.75,314.09 375.20,314.12 375.65,314.16 376.10,314.19 376.55,314.22 377.00,314.25 377.45,314.27 377.90,314.30 378.35,314.33 378.80,314.35 379.25,314.37 379.70,314.40 380.15,314.42 380.60,314.44 381.05,314.46 381.50,314.48 381.95,314.50 382.40,314.52 382.85,314.53 383.30,314.55 383.75,314.57 384.20,314.59 384.65,314.61 385.10,314.62 385.55,314.64 386.00,314.66 386.45,314.68 386.90,314.70 387.35,314.72 387.80,314.73 388.25,314.75 388.70,314.77 389.15,314.79 389.60,314.82 390.05,314.84 390.50,314.86 390.95,314.89 391.40,314.91 391.85,314.94 392.30,314.96 392.75,314.99 393.20,315.02 393.65,315.05 394.10,315.08 394.55,315.11 395.00,315.14 395.45,315.17 395.90,315.20 396.35,315.23 396.80,315.27 397.25,315.30 397.70,315.33 398.15,315.36 398.60,315.40 399.05,315.43 399.50,315.47 399.95,315.50 400.40,315.53 400.85,315.57 401.30,315.60 401.75,315.63 402.20,315.67 402.65,315.70 403.10,315.73 403.55,315.77 404.00,315.80 404.45,315.83 404.90,315.87 405.35,315.90 405.80,315.93 406.25,315.96 406.70,315.99 407.15,316.02 407.60,316.05 408.05,316.08 408.50,316.10 408.95,316.13 409.40,316.16 409.85,316.18 410.30,316.21 410.75,316.23 411.20,316.25 411.65,316.28 412.10,316.30 412.55,316.33 413.00,316.35 413.45,316.37 413.90,316.40 414.35,316.42 414.80,316.45 415.25,316.47 415.70,316.49 416.15,316.52 416.60,316.54 417.05,316.56 417.50,316.59 417.95,316.61 418.40,316.63 418.85,316.65 419.30,316.68 419.75,316.70 420.20,316.72 420.65,316.74 421.10,316.76 421.55,316.78 422.00,316.81 422.45,316.83 422.90,316.85 423.35,316.87 423.80,316.89 424.25,316.91 424.70,316.93 425.15,316.95 425.60,316.97 426.05,316.98 426.50,317.00 426.95,317.02 427.40,317.04 427.85,317.06 428.30,317.07 428.75,317.09 429.20,317.11 429.65,317.12 430.10,317.14 430.55,317.15 431.00,317.17 431.45,317.18 431.90,317.20 432.35,317.21 432.80,317.23 433.25,317.24 433.70,317.25 434.15,317.26 434.60,317.28 435.05,317.29 435.50,317.30 435.95,317.31 436.40,317.32 436.85,317.33 437.30,317.34 437.75,317.36 438.20,317.37 438.65,317.38 439.10,317.39 439.55,317.40 440.00,317.41 440.45,317.42 440.90,317.43 441.35,317.44 441.80,317.46 442.25,317.47 442.70,317.48 443.15,317.49 443.60,317.50 444.05,317.51 444.50,317.52 444.95,317.53 445.40,317.54 445.85,317.55 446.30,317.56 446.75,317.57 447.20,317.58 447.65,317.59 448.10,317.60 448.55,317.61 449.00,317.62 449.45,317.64 449.90,317.64 450.35,317.65 450.80,317.66 451.25,317.67 451.70,317.68 452.15,317.69 452.60,317.70 453.05,317.71 453.50,317.72 453.95,317.73 454.40,317.74 454.85,317.75 455.30,317.76 455.75,317.77 456.20,317.78 456.65,317.78 457.10,317.79 457.55,317.80 458.00,317.81 458.45,317.82 458.90,317.82 459.35,317.83 459.80,317.84 460.25,317.85 460.70,317.86 461.15,317.86 461.60,317.87 462.05,317.88 462.50,317.88 462.95,317.89 463.40,317.90 463.85,317.90 464.30,317.91 464.75,317.92 465.20,317.92 465.65,317.93 466.10,317.93 466.55,317.94 467.00,317.94 467.45,317.95 467.90,317.95 468.35,317.96 468.80,317.96 469.25,317.97 469.70,317.97 470.15,317.98 470.60,317.98 471.05,317.98 471.50,317.99 471.95,317.99 472.40,317.99 472.85,318.00 473.30,318.00 473.75,318.00 474.20,318.01 474.65,318.01 475.10,318.01 475.55,318.01 476.00,318.01 476.45,318.01 476.90,318.02 477.35,318.02 477.80,318.02 478.25,318.02 478.70,318.02" fill="none" stroke="#ff0000" stroke-width="0.8" stroke-linejoin="round"/>
<path d="M60.65 299.44h0M61.10 299.41h0M61.55 299.39h0M62.00 299.36h0M62.45 299.33h0M62.90 299.30h0M63.35 299.27h0M63.80 299.24h0M64.25 299.21h0M64.70 299.18h0M65.15 299.15h0M65.60 299.12h0M66.05 299.09h0M66.50 299.06h0M66.95 299.03h0M67.40 299.00h0M67.85 298.96h0M68.30 298.93h0M68.75 298.89h0M69.20 298.86h0M69.65 298.81h0M70.10 298.76h0M70.55 298.71h0M71.00 298.65h0M71.45 298.59h0M71.90 298.51h0M72.35 298.41h0M72.80 298.30h0M73.25 298.16h0M73.70 298.00h0M74.15 297.81h0M74.60 297.59h0M75.05 297.34h0M75.50 297.06h0M75.95 296.75h0M76.40 296.39h0M76.85 295.72h0M77.30 294.74h0M77.75 293.60h0M78.20 292.43h0M78.65 291.03h0M79.10 289.51h0M79.55 288.05h0M80.00 286.65h0M80.45 285.23h0M80.90 284.00h0M81.35 283.15h0M81.80 282.42h0M82.25 281.81h0M82.70 281.46h0M83.15 281.43h0M83.60 281.45h0M84.05 281.50h0M84.50 281.55h0M84.95 281.62h0M85.40 281.70h0M85.85 281.78h0M86.30 281.86h0M86.75 281.95h0M87.20 282.04h0M87.65 282.14h0M88.10 282.25h0M88.55 282.38h0M89.00 282.53h0M89.45 282.71h0M89.90 282.91h0M90.35 283.14h0M90.80 283.53h0M91.25 284.11h0M91.70 284.80h0M92.15 285.53h0M92.60 286.26h0M93.05 287.10h0M93.50 288.01h0M93.95 288.87h0M94.40 289.59h0M94.85 290.21h0M95.30 290.84h0M95.75 291.45h0M96.20 292.01h0M96.65 292.46h0M97.10 292.79h0M97.55 292.95h0M98.00 292.94h0M98.45 292.81h0M98.90 292.61h0M99.35 292.35h0M99.80 292.04h0M100.25 291.35h0M100.70 290.49h0M101.15 289.92h0M101.60 289.97h0M102.05 290.44h0M102.50 291.12h0M102.95 292.15h0M103.40 293.86h0M103.85 295.66h0M104.30 296.91h0M104.75 297.65h0M105.20 298.34h0M105.65 298.96h0M106.10 299.49h0M106.55 299.90h0M107.00 300.17h0M107.45 300.28h0M107.90 300.26h0M108.35 300.16h0M108.80 300.01h0M109.25 299.81h0M109.70 299.57h0M110.15 299.30h0M110.60 299.00h0M111.05 298.70h0M111.50 298.40h0M111.95 298.10h0M112.40 297.81h0M112.85 297.54h0M113.30 297.27h0M113.75 296.99h0M114.20 296.70h0M114.65 296.41h0M115.10 296.11h0M115.55 295.80h0M116.00 295.48h0M116.45 295.14h0M116.90 294.79h0M117.35 294.43h0M117.80 294.05h0M118.25 293.66h0M118.70 293.25h0M119.15 292.82h0M119.60 292.33h0M120.05 291.80h0M120.50 291.23h0M120.95 290.62h0M121.40 290.00h0M121.85 289.37h0M122.30 288.74h0M122.75 287.97h0M123.20 287.09h0M123.65 286.41h0M124.10 286.22h0M124.55 286.60h0M125.00 287.37h0M125.45 288.33h0M125.90 289.31h0M126.35 290.53h0M126.80 292.10h0M127.25 293.66h0M127.70 294.83h0M128.15 295.31h0M128.60 295.54h0M129.05 295.74h0M129.50 295.90h0M129.95 296.04h0M130.40 296.16h0M130.85 296.26h0M131.30 296.35h0M131.75 296.43h0M132.20 296.52h0M132.65 296.61h0M133.10 296.71h0M133.55 296.83h0M134.00 296.97h0M134.45 297.14h0M134.90 297.33h0M135.35 297.54h0M135.80 297.74h0M136.25 297.94h0M136.70 298.13h0M137.15 298.30h0M137.60 298.44h0M138.05 298.54h0M138.50 298.59h0M138.95 298.57h0M139.40 298.42h0M139.85 298.15h0M140.30 297.77h0M140.75 297.32h0M141.20 296.80h0M141.65 296.25h0M142.10 295.68h0M142.55 295.11h0M143.00 294.56h0M143.45 294.06h0M143.90 293.61h0M144.35 293.11h0M144.80 292.56h0M145.25 291.98h0M145.70 291.42h0M146.15 290.88h0M146.60 290.40h0M147.05 290.01h0M147.50 289.73h0M147.95 289.60h0M148.40 289.65h0M148.85 289.93h0M149.30 290.35h0M149.75 290.83h0M150.20 291.28h0M150.65 291.68h0M151.10 292.10h0M151.55 292.54h0M152.00 293.01h0M152.45 293.51h0M152.90 294.07h0M153.35 294.80h0M153.80 295.67h0M154.25 296.61h0M154.70 297.56h0M155.15 298.46h0M155.60 299.25h0M156.05 299.85h0M156.50 300.21h0M156.95 300.28h0M157.40 300.28h0M157.85 300.28h0M158.30 300.28h0M158.75 300.28h0M159.20 300.28h0M159.65 300.28h0M160.10 300.28h0M160.55 300.28h0M161.00 300.28h0M161.45 300.28h0M161.90 300.28h0M162.35 300.27h0M162.80 300.24h0M163.25 300.19h0M163.70 300.13h0M164.15 300.06h0M164.60 299.97h0M165.05 299.86h0M165.50 299.73h0M165.95 299.59h0M166.40 299.44h0M166.85 299.26h0M167.30 299.08h0M167.75 298.87h0M168.20 298.65h0M168.65 298.30h0M169.10 297.63h0M169.55 296.68h0M170.00 295.49h0M170.45 294.12h0M170.90 292.60h0M171.35 290.40h0M171.80 286.89h0M172.25 280.79h0M172.70 273.35h0M173.15 265.60h0M173.60 254.97h0M174.05 238.47h0M174.50 220.34h0M174.95 206.83h0M175.40 196.11h0M175.85 186.25h0M176.30 177.47h0M176.75 168.97h0M177.20 165.31h0M177.65 163.18h0M178.10 160.66h0M178.55 158.13h0M179.00 155.68h0M179.45 153.01h0M179.90 149.53h0M180.35 144.80h0M180.80 137.30h0M181.25 129.19h0M181.70 118.09h0M182.15 107.17h0M182.60 93.43h0M183.05 82.24h0M183.50 72.42h0M183.95 63.36h0M184.40 54.57h0M184.85 48.41h0M185.30 42.75h0M185.75 38.54h0M186.20 37.20h0M186.65 42.25h0M187.10 45.06h0M187.55 49.04h0M188.00 60.70h0M188.45 80.47h0M188.90 109.15h0M189.35 135.61h0M189.80 155.82h0M190.25 174.21h0M190.70 187.76h0M191.15 200.02h0M191.60 207.95h0M192.05 214.79h0M192.50 220.13h0M192.95 225.18h0M193.40 229.92h0M193.85 234.10h0M194.30 238.16h0M194.75 242.43h0M195.20 244.79h0M195.65 246.31h0M196.10 247.67h0M196.55 248.92h0M197.00 250.18h0M197.45 251.61h0M197.90 253.14h0M198.35 254.72h0M198.80 256.30h0M199.25 257.82h0M199.70 259.24h0M200.15 260.61h0M200.60 261.94h0M201.05 263.25h0M201.50 264.53h0M201.95 265.80h0M202.40 267.06h0M202.85 268.33h0M203.30 269.60h0M203.75 270.88h0M204.20 272.18h0M204.65 273.48h0M205.10 274.76h0M205.55 276.02h0M206.00 277.25h0M206.45 278.44h0M206.90 279.70h0M207.35 280.96h0M207.80 282.13h0M208.25 283.11h0M208.70 283.81h0M209.15 284.37h0M209.60 284.89h0M210.05 285.35h0M210.50 285.77h0M210.95 286.14h0M211.40 286.46h0M211.85 286.74h0M212.30 286.97h0M212.75 287.15h0M213.20 287.31h0M213.65 287.44h0M214.10 287.55h0M214.55 287.65h0M215.00 287.74h0M215.45 287.83h0M215.90 287.92h0M216.35 288.02h0M216.80 288.13h0M217.25 288.27h0M217.70 288.42h0M218.15 288.62h0M218.60 288.88h0M219.05 289.18h0M219.50 289.53h0M219.95 289.91h0M220.40 290.31h0M220.85 290.71h0M221.30 291.11h0M221.75 291.50h0M222.20 291.86h0M222.65 292.18h0M223.10 292.46h0M223.55 292.72h0M224.00 292.97h0M224.45 293.21h0M224.90 293.44h0M225.35 293.67h0M225.80 293.88h0M226.25 294.09h0M226.70 294.29h0M227.15 294.48h0M227.60 294.67h0M228.05 294.84h0M228.50 295.01h0M228.95 295.16h0M229.40 295.29h0M229.85 295.42h0M230.30 295.54h0M230.75 295.65h0M231.20 295.75h0M231.65 295.86h0M232.10 295.97h0M232.55 296.09h0M233.00 296.21h0M233.45 296.35h0M233.90 296.50h0M234.35 296.67h0M234.80 296.86h0M235.25 297.08h0M235.70 297.35h0M236.15 297.67h0M236.60 298.03h0M237.05 298.42h0M237.50 298.84h0M237.95 299.29h0M238.40 299.79h0M238.85 300.44h0M239.30 301.18h0M239.75 301.97h0M240.20 302.74h0M240.65 303.42h0M241.10 303.97h0M241.55 304.33h0M242.00 304.61h0M242.45 304.87h0M242.90 305.10h0M243.35 305.32h0M243.80 305.51h0M244.25 305.69h0M244.70 305.85h0M245.15 306.01h0M245.60 306.15h0M246.05 306.29h0M246.50 306.42h0M246.95 306.55h0M247.40 306.68h0M247.85 306.82h0M248.30 306.95h0M248.75 307.09h0M249.20 307.22h0M249.65 307.34h0M250.10 307.45h0M250.55 307.56h0M251.00 307.65h0M251.45 307.73h0M251.90 307.80h0M252.35 307.85h0M252.80 307.88h0M253.25 307.88h0M253.70 307.88h0M254.15 307.86h0M254.60 307.84h0M255.05 307.81h0M255.50 307.77h0M255.95 307.73h0M256.40 307.69h0M256.85 307.64h0M257.30 307.59h0M257.75 307.54h0M258.20 307.49h0M258.65 307.44h0M259.10 307.39h0M259.55 307.34h0M260.00 307.30h0M260.45 307.26h0M260.90 307.23h0M261.35 307.21h0M261.80 307.19h0M262.25 307.18h0M262.70 307.18h0M263.15 307.20h0M263.60 307.22h0M264.05 307.25h0M264.50 307.28h0M264.95 307.33h0M265.40 307.38h0M265.85 307.43h0M266.30 307.49h0M266.75 307.55h0M267.20 307.61h0M267.65 307.67h0M268.10 307.74h0M268.55 307.80h0M269.00 307.86h0M269.45 307.92h0M269.90 307.97h0M270.35 308.02h0M270.80 308.06h0M271.25 308.10h0M271.70 308.13h0M272.15 308.15h0M272.60 308.16h0M273.05 308.17h0M273.50 308.16h0M273.95 308.13h0M274.40 308.10h0M274.85 308.06h0M275.30 308.01h0M275.75 307.96h0M276.20 307.89h0M276.65 307.82h0M277.10 307.74h0M277.55 307.66h0M278.00 307.58h0M278.45 307.49h0M278.90 307.40h0M279.35 307.31h0M279.80 307.21h0M280.25 307.12h0M280.70 307.03h0M281.15 306.94h0M281.60 306.85h0M282.05 306.77h0M282.50 306.68h0M282.95 306.60h0M283.40 306.52h0M283.85 306.43h0M284.30 306.34h0M284.75 306.25h0M285.20 306.16h0M285.65 306.07h0M286.10 305.97h0M286.55 305.87h0M287.00 305.78h0M287.45 305.67h0M287.90 305.57h0M288.35 305.47h0M288.80 305.36h0M289.25 305.25h0M289.70 305.14h0M290.15 305.03h0M290.60 304.91h0M291.05 304.79h0M291.50 304.67h0M291.95 304.55h0M292.40 304.43h0M292.85 304.30h0M293.30 304.17h0M293.75 304.03h0M294.20 303.89h0M294.65 303.74h0M295.10 303.58h0M295.55 303.43h0M296.00 303.26h0M296.45 303.09h0M296.90 302.92h0M297.35 302.75h0M297.80 302.57h0M298.25 302.38h0M298.70 302.20h0M299.15 302.01h0M299.60 301.82h0M300.05 301.62h0M300.50 301.43h0M300.95 301.23h0M301.40 301.03h0M301.85 300.84h0M302.30 300.64h0M302.75 300.44h0M303.20 300.24h0M303.65 300.04h0M304.10 299.84h0M304.55 299.64h0M305.00 299.44h0M305.45 299.24h0M305.90 299.05h0M306.35 298.86h0M306.80 298.66h0M307.25 298.47h0M307.70 298.27h0M308.15 298.07h0M308.60 297.87h0M309.05 297.66h0M309.50 297.46h0M309.95 297.25h0M310.40 297.04h0M310.85 296.84h0M311.30 296.63h0M311.75 296.42h0M312.20 296.21h0M312.65 296.00h0M313.10 295.79h0M313.55 295.58h0M314.00 295.37h0M314.45 295.16h0M314.90 294.95h0M315.35 294.75h0M315.80 294.54h0M316.25 294.34h0M316.70 294.14h0M317.15 293.94h0M317.60 293.74h0M318.05 293.54h0M318.50 293.35h0M318.95 293.15h0M319.40 292.96h0M319.85 292.78h0M320.30 292.58h0M320.75 292.38h0M321.20 292.19h0M321.65 291.99h0M322.10 291.79h0M322.55 291.59h0M323.00 291.40h0M323.45 291.20h0M323.90 291.02h0M324.35 290.84h0M324.80 290.66h0M325.25 290.50h0M325.70 290.34h0M326.15 290.19h0M326.60 290.06h0M327.05 289.93h0M327.50 289.82h0M327.95 289.72h0M328.40 289.63h0M328.85 289.55h0M329.30 289.48h0M329.75 289.41h0M330.20 289.35h0M330.65 289.29h0M331.10 289.23h0M331.55 289.17h0M332.00 289.11h0M332.45 289.04h0M332.90 288.97h0M333.35 288.89h0M333.80 288.80h0M334.25 288.71h0M334.70 288.60h0M335.15 288.48h0M335.60 288.32h0M336.05 288.09h0M336.50 287.81h0M336.95 287.49h0M337.40 287.14h0M337.85 286.77h0M338.30 286.41h0M338.75 286.06h0M339.20 285.73h0M339.65 285.44h0M340.10 285.21h0M340.55 285.03h0M341.00 284.87h0M341.45 284.71h0M341.90 284.56h0M342.35 284.43h0M342.80 284.33h0M343.25 284.26h0M343.70 284.24h0M344.15 284.41h0M344.60 284.85h0M345.05 285.47h0M345.50 286.17h0M345.95 286.94h0M346.40 287.98h0M346.85 289.24h0M347.30 290.61h0M347.75 291.99h0M348.20 293.27h0M348.65 294.43h0M349.10 295.61h0M349.55 296.80h0M350.00 297.97h0M350.45 299.11h0M350.90 300.20h0M351.35 301.20h0M351.80 302.11h0M352.25 302.90h0M352.70 303.62h0M353.15 304.32h0M353.60 304.99h0M354.05 305.63h0M354.50 306.23h0M354.95 306.81h0M355.40 307.34h0M355.85 307.84h0M356.30 308.29h0M356.75 308.70h0M357.20 309.07h0M357.65 309.40h0M358.10 309.70h0M358.55 309.99h0M359.00 310.26h0M359.45 310.52h0M359.90 310.77h0M360.35 311.01h0M360.80 311.23h0M361.25 311.43h0M361.70 311.63h0M362.15 311.81h0M362.60 311.97h0M363.05 312.12h0M363.50 312.26h0M363.95 312.38h0M364.40 312.49h0M364.85 312.59h0M365.30 312.70h0M365.75 312.80h0M366.20 312.89h0M366.65 312.98h0M367.10 313.07h0M367.55 313.16h0M368.00 313.24h0M368.45 313.32h0M368.90 313.39h0M369.35 313.47h0M369.80 313.53h0M370.25 313.60h0M370.70 313.66h0M371.15 313.72h0M371.60 313.78h0M372.05 313.83h0M372.50 313.88h0M372.95 313.93h0M373.40 313.97h0M373.85 314.01h0M374.30 314.05h0M374.75 314.09h0M375.20 314.12h0M375.65 314.16h0M376.10 314.19h0M376.55 314.22h0M377.00 314.25h0M377.45 314.27h0M377.90 314.30h0M378.35 314.33h0M378.80 314.35h0M379.25 314.37h0M379.70 314.40h0M380.15 314.42h0M380.60 314.44h0M381.05 314.46h0M381.50 314.48h0M381.95 314.50h0M382.40 314.52h0M382.85 314.53h0M383.30 314.55h0M383.75 314.57h0M384.20 314.59h0M384.65 314.61h0M385.10 314.62h0M385.55 314.64h0M386.00 314.66h0M386.45 314.68h0M386.90 314.70h0M387.35 314.72h0M387.80 314.73h0M388.25 314.75h0M388.70 314.77h0M389.15 314.79h0M389.60 314.82h0M390.05 314.84h0M390.50 314.86h0M390.95 314.89h0M391.40 314.91h0M391.85 314.94h0M392.30 314.96h0M392.75 314.99h0M393.20 315.02h0M393.65 315.05h0M394.10 315.08h0M394.55 315.11h0M395.00 315.14h0M395.45 315.17h0M395.90 315.20h0M396.35 315.23h0M396.80 315.27h0M397.25 315.30h0M397.70 315.33h0M398.15 315.36h0M398.60 315.40h0M399.05 315.43h0M399.50 315.47h0M399.95 315.50h0M400.40 315.53h0M400.85 315.57h0M401.30 315.60h0M401.75 315.63h0M402.20 315.67h0M402.65 315.70h0M403.10 315.73h0M403.55 315.77h0M404.00 315.80h0M404.45 315.83h0M404.90 315.87h0M405.35 315.90h0M405.80 315.93h0M406.25 315.96h0M406.70 315.99h0M407.15 316.02h0M407.60 316.05h0M408.05 316.08h0M408.50 316.10h0M408.95 316.13h0M409.40 316.16h0M409.85 316.18h0M410.30 316.21h0M410.75 316.23h0M411.20 316.25h0M411.65 316.28h0M412.10 316.30h0M412.55 316.33h0M413.00 316.35h0M413.45 316.37h0M413.90 316.40h0M414.35 316.42h0M414.80 316.45h0M415.25 316.47h0M415.70 316.49h0M416.15 316.52h0M416.60 316.54h0M417.05 316.56h0M417.50 316.59h0M417.95 316.61h0M418.40 316.63h0M418.85 316.65h0M419.30 316.68h0M419.75 316.70h0M420.20 316.72h0M420.65 316.74h0M421.10 316.76h0M421.55 316.78h0M422.00 316.81h0M422.45 316.83h0M422.90 316.85h0M423.35 316.87h0M423.80 316.89h0M424.25 316.91h0M424.70 316.93h0M425.15 316.95h0M425.60 316.97h0M426.05 316.98h0M426.50 317.00h0M426.95 317.02h0M427.40 317.04h0M427.85 317.06h0M428.30 317.07h0M428.75 317.09h0M429.20 317.11h0M429.65 317.12h0M430.10 317.14h0M430.55 317.15h0M431.00 317.17h0M431.45 317.18h0M431.90 317.20h0M432.35 317.21h0M432.80 317.23h0M433.25 317.24h0M433.70 317.25h0M434.15 317.26h0M434.60 317.28h0M435.05 317.29h0M435.50 317.30h0M435.95 317.31h0M436.40 317.32h0M436.85 317.33h0M437.30 317.34h0M437.75 317.36h0M438.20 317.37h0M438.65 317.38h0M439.10 317.39h0M439.55 317.40h0M440.00 317.41h0M440.45 317.42h0M440.90 317.43h0M441.35 317.44h0M441.80 317.46h0M442.25 317.47h0M442.70 317.48h0M443.15 317.49h0M443.60 317.50h0M444.05 317.51h0M444.50 317.52h0M444.95 317.53h0M445.40 317.54h0M445.85 317.55h0M446.30 317.56h0M446.75 317.57h0M447.20 317.58h0M447.65 317.59h0M448.10 317.60h0M448.55 317.61h0M449.00 317.62h0M449.45 317.64h0M449.90 317.64h0M450.35 317.65h0M450.80 317.66h0M451.25 317.67h0M451.70 317.68h0M452.15 317.69h0M452.60 317.70h0M453.05 317.71h0M453.50 317.72h0M453.95 317.73h0M454.40 317.74h0M454.85 317.75h0M455.30 317.76h0M455.75 317.77h0M456.20 317.78h0M456.65 317.78h0M457.10 317.79h0M457.55 317.80h0M458.00 317.81h0M458.45 317.82h0M458.90 317.82h0M459.35 317.83h0M459.80 317.84h0M460.25 317.85h0M460.70 317.86h0M461.15 317.86h0M461.60 317.87h0M462.05 317.88h0M462.50 317.88h0M462.95 317.89h0M463.40 317.90h0M463.85 317.90h0M464.30 317.91h0M464.75 317.92h0M465.20 317.92h0M465.65 317.93h0M466.10 317.93h0M466.55 317.94h0M467.00 317.94h0M467.45 317.95h0M467.90 317.95h0M468.35 317.96h0M468.80 317.96h0M469.25 317.97h0M469.70 317.97h0M470.15 317.98h0M470.60 317.98h0M471.05 317.98h0M471.50 317.99h0M471.95 317.99h0M472.40 317.99h0M472.85 318.00h0M473.30 318.00h0M473.75 318.00h0M474.20 318.01h0M474.65 318.01h0M475.10 318.01h0M475.55 318.01h0M476.00 318.01h0M476.45 318.01h0M476.90 318.02h0M477.35 318.02h0M477.80 318.02h0M478.25 318.02h0M478.70 318.02h0" fill="none" stroke="#ff0000" stroke-width="4.8" stroke-linecap="round"/>

</g>
<g clip-path="url(#cb)">
<polyline points="581.50,320.88 582.05,320.88 582.60,320.88 583.15,320.88 583.70,320.88 584.25,320.87 584.80,320.87 585.35,320.87 585.90,320.87 586.45,320.87 587.00,320.87 587.55,320.87 588.10,320.87 588.65,320.87 589.20,320.87 589.75,320.86 590.30,320.86 590.85,320.86 591.40,320.86 591.95,320.86 592.50,320.85 593.05,320.85 593.60,320.85 594.15,320.85 594.70,320.84 595.25,320.84 595.80,320.84 596.35,320.83 596.90,320.83 597.45,320.83 598.00,320.82 598.55,320.82 599.10,320.81 599.65,320.81 600.20,320.80 600.75,320.80 601.30,320.79 601.85,320.79 602.40,320.78 602.95,320.78 603.50,320.77 604.05,320.76 604.60,320.76 605.15,320.75 605.70,320.74 606.25,320.74 606.80,320.73 607.35,320.72 607.90,320.71 608.45,320.71 609.00,320.70 609.55,320.69 610.10,320.68 610.65,320.67 611.20,320.66 611.75,320.65 612.30,320.64 612.85,320.63 613.40,320.62 613.95,320.61 614.50,320.60 615.05,320.59 615.60,320.56 616.15,320.52 616.70,320.46 617.25,320.39 617.80,320.29 618.35,320.18 618.90,320.04 619.45,319.89 620.00,319.72 620.55,319.46 621.10,319.03 621.65,318.41 622.20,317.59 622.75,315.91 623.30,313.39 623.85,310.84 624.40,309.82 624.95,309.59 625.50,309.43 626.05,309.32 626.60,309.23 627.15,309.14 627.70,309.02 628.25,308.89 628.80,308.76 629.35,308.62 629.90,308.48 630.45,308.33 631.00,308.19 631.55,308.05 632.10,307.92 632.65,307.78 633.20,307.66 633.75,307.54 634.30,307.43 634.85,307.34 635.40,307.25 635.95,307.18 636.50,307.12 637.05,307.08 637.60,307.06 638.15,307.05 638.70,307.08 639.25,307.13 639.80,307.21 640.35,307.31 640.90,307.43 641.45,307.56 642.00,307.71 642.55,307.86 643.10,308.02 643.65,308.17 644.20,308.33 644.75,308.48 645.30,308.62 645.85,308.75 646.40,308.86 646.95,308.95 647.50,309.02 648.05,309.06 648.60,309.07 649.15,309.04 649.70,308.98 650.25,308.89 650.80,308.77 651.35,308.63 651.90,308.46 652.45,308.29 653.00,308.10 653.55,307.90 654.10,307.70 654.65,307.50 655.20,307.30 655.75,307.05 656.30,306.73 656.85,306.36 657.40,305.98 657.95,305.59 658.50,305.22 659.05,304.91 659.60,304.66 660.15,304.50 660.70,304.46 661.25,304.59 661.80,304.88 662.35,305.27 662.90,305.73 663.45,306.20 664.00,306.64 664.55,307.01 665.10,307.26 665.65,307.34 666.20,307.32 666.75,307.27 667.30,307.21 667.85,307.12 668.40,307.03 668.95,306.86 669.50,306.61 670.05,306.37 670.60,306.21 671.15,306.20 671.70,306.33 672.25,306.57 672.80,306.89 673.35,307.27 673.90,307.66 674.45,308.06 675.00,308.43 675.55,308.73 676.10,308.96 676.65,309.06 677.20,309.07 677.75,309.07 678.30,309.07 678.85,309.07 679.40,309.07 679.95,309.07 680.50,309.07 681.05,309.07 681.60,309.07 682.15,309.07 682.70,309.07 683.25,309.07 683.80,309.07 684.35,309.07 684.90,309.07 685.45,309.07 686.00,309.07 686.55,309.07 687.10,309.07 687.65,309.07 688.20,309.07 688.75,309.07 689.30,309.07 689.85,309.07 690.40,309.07 690.95,309.07 691.50,309.07 692.05,309.07 692.60,309.07 693.15,309.07 693.70,309.07 694.25,309.06 694.80,309.05 695.35,309.03 695.90,309.02 696.45,308.99 697.00,308.96 697.55,308.93 698.10,308.90 698.65,308.86 699.20,308.82 699.75,308.78 700.30,308.70 700.85,308.57 701.40,308.39 701.95,308.16 702.50,307.89 703.05,307.58 703.60,307.23 704.15,306.85 704.70,306.43 705.25,305.95 705.80,305.24 706.35,304.31 706.90,303.20 707.45,301.95 708.00,300.63 708.55,299.22 709.10,297.56 709.65,295.66 710.20,293.57 710.75,291.33 711.30,288.90 711.85,285.98 712.40,282.25 712.95,274.74 713.50,260.68 714.05,248.61 714.60,235.45 715.15,213.35 715.70,171.98 716.25,99.05 716.80,48.22 717.35,37.24 717.90,32.30 718.45,35.12 719.00,47.15 719.55,99.79 720.10,145.00 720.65,185.86 721.20,220.31 721.75,246.23 722.30,258.56 722.85,264.04 723.40,267.82 723.95,271.07 724.50,274.78 725.05,278.68 725.60,281.43 726.15,283.77 726.70,285.99 727.25,287.96 727.80,289.54 728.35,290.74 728.90,291.81 729.45,292.76 730.00,293.58 730.55,294.29 731.10,294.86 731.65,295.35 732.20,295.79 732.75,296.19 733.30,296.56 733.85,296.89 734.40,297.20 734.95,297.47 735.50,297.72 736.05,297.95 736.60,298.16 737.15,298.36 737.70,298.54 738.25,298.72 738.80,298.89 739.35,299.05 739.90,299.21 740.45,299.36 741.00,299.50 741.55,299.63 742.10,299.75 742.65,299.87 743.20,299.99 743.75,300.09 744.30,300.20 744.85,300.29 745.40,300.38 745.95,300.47 746.50,300.55 747.05,300.64 747.60,300.72 748.15,300.81 748.70,300.89 749.25,300.97 749.80,301.05 750.35,301.13 750.90,301.20 751.45,301.27 752.00,301.33 752.55,301.39 753.10,301.44 753.65,301.48 754.20,301.52 754.75,301.55 755.30,301.57 755.85,301.58 756.40,301.58 756.95,301.54 757.50,301.45 758.05,301.33 758.60,301.19 759.15,301.03 759.70,300.85 760.25,300.67 760.80,300.49 761.35,300.31 761.90,300.16 762.45,300.03 763.00,299.93 763.55,299.87 764.10,299.85 764.65,299.90 765.20,300.00 765.75,300.14 766.30,300.32 766.85,300.54 767.40,300.76 767.95,301.00 768.50,301.24 769.05,301.47 769.60,301.68 770.15,301.87 770.70,302.01 771.25,302.11 771.80,302.15 772.35,302.14 772.90,302.08 773.45,301.98 774.00,301.85 774.55,301.68 775.10,301.49 775.65,301.28 776.20,301.06 776.75,300.83 777.30,300.59 777.85,300.35 778.40,300.11 778.95,299.88 779.50,299.67 780.05,299.47 780.60,299.26 781.15,299.02 781.70,298.76 782.25,298.49 782.80,298.22 783.35,297.95 783.90,297.68 784.45,297.42 785.00,297.18 785.55,296.97 786.10,296.78 786.65,296.62 787.20,296.50 787.75,296.42 788.30,296.40 788.85,296.44 789.40,296.57 789.95,296.77 790.50,297.03 791.05,297.34 791.60,297.68 792.15,298.05 792.70,298.42 793.25,298.80 793.80,299.17 794.35,299.51 794.90,299.82 795.45,300.08 796.00,300.29 796.55,300.47 797.10,300.64 797.65,300.80 798.20,300.96 798.75,301.13 799.30,301.31 799.85,301.52 800.40,301.76 800.95,302.03 801.50,302.34 802.05,302.68 802.60,303.04 803.15,303.41 803.70,303.80 804.25,304.19 804.80,304.57 805.35,304.96 805.90,305.33 806.45,305.68 807.00,306.01 807.55,306.30 808.10,306.57 808.65,306.83 809.20,307.09 809.75,307.35 810.30,307.60 810.85,307.85 811.40,308.10 811.95,308.34 812.50,308.57 813.05,308.78 813.60,308.99 814.15,309.18 814.70,309.36 815.25,309.53 815.80,309.67 816.35,309.79 816.90,309.90 817.45,309.99 818.00,310.07 818.55,310.14 819.10,310.22 819.65,310.29 820.20,310.35 820.75,310.41 821.30,310.47 821.85,310.53 822.40,310.58 822.95,310.64 823.50,310.69 824.05,310.73 824.60,310.78 825.15,310.82 825.70,310.86 826.25,310.91 826.80,310.95 827.35,310.99 827.90,311.02 828.45,311.06 829.00,311.10 829.55,311.14 830.10,311.18 830.65,311.21 831.20,311.25 831.75,311.29 832.30,311.33 832.85,311.38 833.40,311.42 833.95,311.46 834.50,311.50 835.05,311.55 835.60,311.59 836.15,311.63 836.70,311.68 837.25,311.72 837.80,311.76 838.35,311.81 838.90,311.85 839.45,311.89 840.00,311.93 840.55,311.97 841.10,312.02 841.65,312.06 842.20,312.10 842.75,312.14 843.30,312.17 843.85,312.21 844.40,312.25 844.95,312.29 845.50,312.32 846.05,312.36 846.60,312.39 847.15,312.42 847.70,312.45 848.25,312.48 848.80,312.51 849.35,312.54 849.90,312.56 850.45,312.59 851.00,312.61 851.55,312.63 852.10,312.65 852.65,312.67 853.20,312.69 853.75,312.71 854.30,312.73 854.85,312.74 855.40,312.76 855.95,312.78 856.50,312.80 857.05,312.82 857.60,312.83 858.15,312.85 858.70,312.87 859.25,312.88 859.80,312.90 860.35,312.91 860.90,312.93 861.45,312.94 862.00,312.96 862.55,312.97 863.10,312.98 863.65,313.00 864.20,313.01 864.75,313.02 865.30,313.03 865.85,313.04 866.40,313.05 866.95,313.06 867.50,313.07 868.05,313.07 868.60,313.08 869.15,313.09 869.70,313.09 870.25,313.09 870.80,313.10 871.35,313.10 871.90,313.10 872.45,313.10 873.00,313.09 873.55,313.06 874.10,313.03 874.65,312.98 875.20,312.93 875.75,312.86 876.30,312.80 876.85,312.72 877.40,312.65 877.95,312.56 878.50,312.48 879.05,312.40 879.60,312.32 880.15,312.24 880.70,312.16 881.25,312.09 881.80,312.02 882.35,311.95 882.90,311.90 883.45,311.85 884.00,311.82 884.55,311.79 885.10,311.78 885.65,311.78 886.20,311.78 886.75,311.79 887.30,311.81 887.85,311.82 888.40,311.85 888.95,311.87 889.50,311.90 890.05,311.93 890.60,311.97 891.15,312.00 891.70,312.04 892.25,312.08 892.80,312.11 893.35,312.15 893.90,312.19 894.45,312.23 895.00,312.26 895.55,312.30 896.10,312.34 896.65,312.38 897.20,312.43 897.75,312.48 898.30,312.52 898.85,312.57 899.40,312.62 899.95,312.68 900.50,312.73 901.05,312.79 901.60,312.84 902.15,312.90 902.70,312.96 903.25,313.02 903.80,313.08 904.35,313.14 904.90,313.20 905.45,313.26 906.00,313.33 906.55,313.39 907.10,313.45 907.65,313.52 908.20,313.58 908.75,313.64 909.30,313.71 909.85,313.77 910.40,313.83 910.95,313.89 911.50,313.95 912.05,314.02 912.60,314.09 913.15,314.16 913.70,314.24 914.25,314.32 914.80,314.40 915.35,314.48 915.90,314.56 916.45,314.63 917.00,314.69 917.55,314.75 918.10,314.79 918.65,314.82 919.20,314.84 919.75,314.85 920.30,314.87 920.85,314.88 921.40,314.90 921.95,314.91 922.50,314.93 923.05,314.94 923.60,314.95 924.15,314.97 924.70,314.98 925.25,314.99 925.80,315.00 926.35,315.01 926.90,315.02 927.45,315.03 928.00,315.04 928.55,315.05 929.10,315.05 929.65,315.06 930.20,315.07 930.75,315.08 931.30,315.08 931.85,315.09 932.40,315.09 932.95,315.10 933.50,315.10 934.05,315.10 934.60,315.11 935.15,315.11 935.70,315.11 936.25,315.11 936.80,315.12 937.35,315.12 937.90,315.12 938.45,315.12 939.00,315.11 939.55,315.11 940.10,315.11 940.65,315.11 941.20,315.10 941.75,315.10 942.30,315.09 942.85,315.09 943.40,315.08 943.95,315.07 944.50,315.06 945.05,315.06 945.60,315.05 946.15,315.04 946.70,315.03 947.25,315.02 947.80,315.00 948.35,314.99 948.90,314.98 949.45,314.97 950.00,314.96 950.55,314.94 951.10,314.93 951.65,314.92 952.20,314.90 952.75,314.89 953.30,314.87 953.85,314.86 954.40,314.84 954.95,314.83 955.50,314.81 956.05,314.80 956.60,314.78 957.15,314.77 957.70,314.75 958.25,314.73 958.80,314.72 959.35,314.70 959.90,314.69 960.45,314.67 961.00,314.65 961.55,314.64 962.10,314.62 962.65,314.61 963.20,314.59 963.75,314.57 964.30,314.56 964.85,314.54 965.40,314.53 965.95,314.51 966.50,314.50 967.05,314.48 967.60,314.47 968.15,314.45 968.70,314.44 969.25,314.43 969.80,314.41 970.35,314.40 970.90,314.39 971.45,314.38 972.00,314.37 972.55,314.35 973.10,314.34 973.65,314.33 974.20,314.32 974.75,314.31 975.30,314.31 975.85,314.30 976.40,314.29 976.95,314.28 977.50,314.28 978.05,314.27 978.60,314.27 979.15,314.26 979.70,314.26 980.25,314.26 980.80,314.25 981.35,314.25 981.90,314.25 982.45,314.25 983.00,314.25 983.55,314.26 984.10,314.26 984.65,314.26 985.20,314.27 985.75,314.28 986.30,314.28 986.85,314.29 987.40,314.30 987.95,314.31 988.50,314.32 989.05,314.33 989.60,314.35 990.15,314.36 990.70,314.37 991.25,314.39 991.80,314.40 992.35,314.42 992.90,314.44 993.45,314.45 994.00,314.47 994.55,314.49 995.10,314.51 995.65,314.53 996.20,314.55 996.75,314.57 997.30,314.60 997.85,314.62 998.40,314.64 998.95,314.67 999.50,314.69 1000.05,314.71 1000.60,314.74 1001.15,314.76 1001.70,314.79 1002.25,314.82 1002.80,314.84 1003.35,314.87 1003.90,314.90 1004.45,314.92 1005.00,314.95 1005.55,314.98 1006.10,315.01 1006.65,315.04 1007.20,315.06 1007.75,315.09" fill="none" stroke="#00ff00" stroke-width="0.6" stroke-linejoin="round"/>
<path d="M581.50 320.88h0M582.05 320.88h0M582.60 320.88h0M583.15 320.88h0M583.70 320.88h0M584.25 320.87h0M584.80 320.87h0M585.35 320.87h0M585.90 320.87h0M586.45 320.87h0M587.00 320.87h0M587.55 320.87h0M588.10 320.87h0M588.65 320.87h0M589.20 320.87h0M589.75 320.86h0M590.30 320.86h0M590.85 320.86h0M591.40 320.86h0M591.95 320.86h0M592.50 320.85h0M593.05 320.85h0M593.60 320.85h0M594.15 320.85h0M594.70 320.84h0M595.25 320.84h0M595.80 320.84h0M596.35 320.83h0M596.90 320.83h0M597.45 320.83h0M598.00 320.82h0M598.55 320.82h0M599.10 320.81h0M599.65 320.81h0M600.20 320.80h0M600.75 320.80h0M601.30 320.79h0M601.85 320.79h0M602.40 320.78h0M602.95 320.78h0M603.50 320.77h0M604.05 320.76h0M604.60 320.76h0M605.15 320.75h0M605.70 320.74h0M606.25 320.74h0M606.80 320.73h0M607.35 320.72h0M607.90 320.71h0M608.45 320.71h0M609.00 320.70h0M609.55 320.69h0M610.10 320.68h0M610.65 320.67h0M611.20 320.66h0M611.75 320.65h0M612.30 320.64h0M612.85 320.63h0M613.40 320.62h0M613.95 320.61h0M614.50 320.60h0M615.05 320.59h0M615.60 320.56h0M616.15 320.52h0M616.70 320.46h0M617.25 320.39h0M617.80 320.29h0M618.35 320.18h0M618.90 320.04h0M619.45 319.89h0M620.00 319.72h0M620.55 319.46h0M621.10 319.03h0M621.65 318.41h0M622.20 317.59h0M622.75 315.91h0M623.30 313.39h0M623.85 310.84h0M624.40 309.82h0M624.95 309.59h0M625.50 309.43h0M626.05 309.32h0M626.60 309.23h0M627.15 309.14h0M627.70 309.02h0M628.25 308.89h0M628.80 308.76h0M629.35 308.62h0M629.90 308.48h0M630.45 308.33h0M631.00 308.19h0M631.55 308.05h0M632.10 307.92h0M632.65 307.78h0M633.20 307.66h0M633.75 307.54h0M634.30 307.43h0M634.85 307.34h0M635.40 307.25h0M635.95 307.18h0M636.50 307.12h0M637.05 307.08h0M637.60 307.06h0M638.15 307.05h0M638.70 307.08h0M639.25 307.13h0M639.80 307.21h0M640.35 307.31h0M640.90 307.43h0M641.45 307.56h0M642.00 307.71h0M642.55 307.86h0M643.10 308.02h0M643.65 308.17h0M644.20 308.33h0M644.75 308.48h0M645.30 308.62h0M645.85 308.75h0M646.40 308.86h0M646.95 308.95h0M647.50 309.02h0M648.05 309.06h0M648.60 309.07h0M649.15 309.04h0M649.70 308.98h0M650.25 308.89h0M650.80 308.77h0M651.35 308.63h0M651.90 308.46h0M652.45 308.29h0M653.00 308.10h0M653.55 307.90h0M654.10 307.70h0M654.65 307.50h0M655.20 307.30h0M655.75 307.05h0M656.30 306.73h0M656.85 306.36h0M657.40 305.98h0M657.95 305.59h0M658.50 305.22h0M659.05 304.91h0M659.60 304.66h0M660.15 304.50h0M660.70 304.46h0M661.25 304.59h0M661.80 304.88h0M662.35 305.27h0M662.90 305.73h0M663.45 306.20h0M664.00 306.64h0M664.55 307.01h0M665.10 307.26h0M665.65 307.34h0M666.20 307.32h0M666.75 307.27h0M667.30 307.21h0M667.85 307.12h0M668.40 307.03h0M668.95 306.86h0M669.50 306.61h0M670.05 306.37h0M670.60 306.21h0M671.15 306.20h0M671.70 306.33h0M672.25 306.57h0M672.80 306.89h0M673.35 307.27h0M673.90 307.66h0M674.45 308.06h0M675.00 308.43h0M675.55 308.73h0M676.10 308.96h0M676.65 309.06h0M677.20 309.07h0M677.75 309.07h0M678.30 309.07h0M678.85 309.07h0M679.40 309.07h0M679.95 309.07h0M680.50 309.07h0M681.05 309.07h0M681.60 309.07h0M682.15 309.07h0M682.70 309.07h0M683.25 309.07h0M683.80 309.07h0M684.35 309.07h0M684.90 309.07h0M685.45 309.07h0M686.00 309.07h0M686.55 309.07h0M687.10 309.07h0M687.65 309.07h0M688.20 309.07h0M688.75 309.07h0M689.30 309.07h0M689.85 309.07h0M690.40 309.07h0M690.95 309.07h0M691.50 309.07h0M692.05 309.07h0M692.60 309.07h0M693.15 309.07h0M693.70 309.07h0M694.25 309.06h0M694.80 309.05h0M695.35 309.03h0M695.90 309.02h0M696.45 308.99h0M697.00 308.96h0M697.55 308.93h0M698.10 308.90h0M698.65 308.86h0M699.20 308.82h0M699.75 308.78h0M700.30 308.70h0M700.85 308.57h0M701.40 308.39h0M701.95 308.16h0M702.50 307.89h0M703.05 307.58h0M703.60 307.23h0M704.15 306.85h0M704.70 306.43h0M705.25 305.95h0M705.80 305.24h0M706.35 304.31h0M706.90 303.20h0M707.45 301.95h0M708.00 300.63h0M708.55 299.22h0M709.10 297.56h0M709.65 295.66h0M710.20 293.57h0M710.75 291.33h0M711.30 288.90h0M711.85 285.98h0M712.40 282.25h0M712.95 274.74h0M713.50 260.68h0M714.05 248.61h0M714.60 235.45h0M715.15 213.35h0M715.70 171.98h0M716.25 99.05h0M716.80 48.22h0M717.35 37.24h0M717.90 32.30h0M718.45 35.12h0M719.00 47.15h0M719.55 99.79h0M720.10 145.00h0M720.65 185.86h0M721.20 220.31h0M721.75 246.23h0M722.30 258.56h0M722.85 264.04h0M723.40 267.82h0M723.95 271.07h0M724.50 274.78h0M725.05 278.68h0M725.60 281.43h0M726.15 283.77h0M726.70 285.99h0M727.25 287.96h0M727.80 289.54h0M728.35 290.74h0M728.90 291.81h0M729.45 292.76h0M730.00 293.58h0M730.55 294.29h0M731.10 294.86h0M731.65 295.35h0M732.20 295.79h0M732.75 296.19h0M733.30 296.56h0M733.85 296.89h0M734.40 297.20h0M734.95 297.47h0M735.50 297.72h0M736.05 297.95h0M736.60 298.16h0M737.15 298.36h0M737.70 298.54h0M738.25 298.72h0M738.80 298.89h0M739.35 299.05h0M739.90 299.21h0M740.45 299.36h0M741.00 299.50h0M741.55 299.63h0M742.10 299.75h0M742.65 299.87h0M743.20 299.99h0M743.75 300.09h0M744.30 300.20h0M744.85 300.29h0M745.40 300.38h0M745.95 300.47h0M746.50 300.55h0M747.05 300.64h0M747.60 300.72h0M748.15 300.81h0M748.70 300.89h0M749.25 300.97h0M749.80 301.05h0M750.35 301.13h0M750.90 301.20h0M751.45 301.27h0M752.00 301.33h0M752.55 301.39h0M753.10 301.44h0M753.65 301.48h0M754.20 301.52h0M754.75 301.55h0M755.30 301.57h0M755.85 301.58h0M756.40 301.58h0M756.95 301.54h0M757.50 301.45h0M758.05 301.33h0M758.60 301.19h0M759.15 301.03h0M759.70 300.85h0M760.25 300.67h0M760.80 300.49h0M761.35 300.31h0M761.90 300.16h0M762.45 300.03h0M763.00 299.93h0M763.55 299.87h0M764.10 299.85h0M764.65 299.90h0M765.20 300.00h0M765.75 300.14h0M766.30 300.32h0M766.85 300.54h0M767.40 300.76h0M767.95 301.00h0M768.50 301.24h0M769.05 301.47h0M769.60 301.68h0M770.15 301.87h0M770.70 302.01h0M771.25 302.11h0M771.80 302.15h0M772.35 302.14h0M772.90 302.08h0M773.45 301.98h0M774.00 301.85h0M774.55 301.68h0M775.10 301.49h0M775.65 301.28h0M776.20 301.06h0M776.75 300.83h0M777.30 300.59h0M777.85 300.35h0M778.40 300.11h0M778.95 299.88h0M779.50 299.67h0M780.05 299.47h0M780.60 299.26h0M781.15 299.02h0M781.70 298.76h0M782.25 298.49h0M782.80 298.22h0M783.35 297.95h0M783.90 297.68h0M784.45 297.42h0M785.00 297.18h0M785.55 296.97h0M786.10 296.78h0M786.65 296.62h0M787.20 296.50h0M787.75 296.42h0M788.30 296.40h0M788.85 296.44h0M789.40 296.57h0M789.95 296.77h0M790.50 297.03h0M791.05 297.34h0M791.60 297.68h0M792.15 298.05h0M792.70 298.42h0M793.25 298.80h0M793.80 299.17h0M794.35 299.51h0M794.90 299.82h0M795.45 300.08h0M796.00 300.29h0M796.55 300.47h0M797.10 300.64h0M797.65 300.80h0M798.20 300.96h0M798.75 301.13h0M799.30 301.31h0M799.85 301.52h0M800.40 301.76h0M800.95 302.03h0M801.50 302.34h0M802.05 302.68h0M802.60 303.04h0M803.15 303.41h0M803.70 303.80h0M804.25 304.19h0M804.80 304.57h0M805.35 304.96h0M805.90 305.33h0M806.45 305.68h0M807.00 306.01h0M807.55 306.30h0M808.10 306.57h0M808.65 306.83h0M809.20 307.09h0M809.75 307.35h0M810.30 307.60h0M810.85 307.85h0M811.40 308.10h0M811.95 308.34h0M812.50 308.57h0M813.05 308.78h0M813.60 308.99h0M814.15 309.18h0M814.70 309.36h0M815.25 309.53h0M815.80 309.67h0M816.35 309.79h0M816.90 309.90h0M817.45 309.99h0M818.00 310.07h0M818.55 310.14h0M819.10 310.22h0M819.65 310.29h0M820.20 310.35h0M820.75 310.41h0M821.30 310.47h0M821.85 310.53h0M822.40 310.58h0M822.95 310.64h0M823.50 310.69h0M824.05 310.73h0M824.60 310.78h0M825.15 310.82h0M825.70 310.86h0M826.25 310.91h0M826.80 310.95h0M827.35 310.99h0M827.90 311.02h0M828.45 311.06h0M829.00 311.10h0M829.55 311.14h0M830.10 311.18h0M830.65 311.21h0M831.20 311.25h0M831.75 311.29h0M832.30 311.33h0M832.85 311.38h0M833.40 311.42h0M833.95 311.46h0M834.50 311.50h0M835.05 311.55h0M835.60 311.59h0M836.15 311.63h0M836.70 311.68h0M837.25 311.72h0M837.80 311.76h0M838.35 311.81h0M838.90 311.85h0M839.45 311.89h0M840.00 311.93h0M840.55 311.97h0M841.10 312.02h0M841.65 312.06h0M842.20 312.10h0M842.75 312.14h0M843.30 312.17h0M843.85 312.21h0M844.40 312.25h0M844.95 312.29h0M845.50 312.32h0M846.05 312.36h0M846.60 312.39h0M847.15 312.42h0M847.70 312.45h0M848.25 312.48h0M848.80 312.51h0M849.35 312.54h0M849.90 312.56h0M850.45 312.59h0M851.00 312.61h0M851.55 312.63h0M852.10 312.65h0M852.65 312.67h0M853.20 312.69h0M853.75 312.71h0M854.30 312.73h0M854.85 312.74h0M855.40 312.76h0M855.95 312.78h0M856.50 312.80h0M857.05 312.82h0M857.60 312.83h0M858.15 312.85h0M858.70 312.87h0M859.25 312.88h0M859.80 312.90h0M860.35 312.91h0M860.90 312.93h0M861.45 312.94h0M862.00 312.96h0M862.55 312.97h0M863.10 312.98h0M863.65 313.00h0M864.20 313.01h0M864.75 313.02h0M865.30 313.03h0M865.85 313.04h0M866.40 313.05h0M866.95 313.06h0M867.50 313.07h0M868.05 313.07h0M868.60 313.08h0M869.15 313.09h0M869.70 313.09h0M870.25 313.09h0M870.80 313.10h0M871.35 313.10h0M871.90 313.10h0M872.45 313.10h0M873.00 313.09h0M873.55 313.06h0M874.10 313.03h0M874.65 312.98h0M875.20 312.93h0M875.75 312.86h0M876.30 312.80h0M876.85 312.72h0M877.40 312.65h0M877.95 312.56h0M878.50 312.48h0M879.05 312.40h0M879.60 312.32h0M880.15 312.24h0M880.70 312.16h0M881.25 312.09h0M881.80 312.02h0M882.35 311.95h0M882.90 311.90h0M883.45 311.85h0M884.00 311.82h0M884.55 311.79h0M885.10 311.78h0M885.65 311.78h0M886.20 311.78h0M886.75 311.79h0M887.30 311.81h0M887.85 311.82h0M888.40 311.85h0M888.95 311.87h0M889.50 311.90h0M890.05 311.93h0M890.60 311.97h0M891.15 312.00h0M891.70 312.04h0M892.25 312.08h0M892.80 312.11h0M893.35 312.15h0M893.90 312.19h0M894.45 312.23h0M895.00 312.26h0M895.55 312.30h0M896.10 312.34h0M896.65 312.38h0M897.20 312.43h0M897.75 312.48h0M898.30 312.52h0M898.85 312.57h0M899.40 312.62h0M899.95 312.68h0M900.50 312.73h0M901.05 312.79h0M901.60 312.84h0M902.15 312.90h0M902.70 312.96h0M903.25 313.02h0M903.80 313.08h0M904.35 313.14h0M904.90 313.20h0M905.45 313.26h0M906.00 313.33h0M906.55 313.39h0M907.10 313.45h0M907.65 313.52h0M908.20 313.58h0M908.75 313.64h0M909.30 313.71h0M909.85 313.77h0M910.40 313.83h0M910.95 313.89h0M911.50 313.95h0M912.05 314.02h0M912.60 314.09h0M913.15 314.16h0M913.70 314.24h0M914.25 314.32h0M914.80 314.40h0M915.35 314.48h0M915.90 314.56h0M916.45 314.63h0M917.00 314.69h0M917.55 314.75h0M918.10 314.79h0M918.65 314.82h0M919.20 314.84h0M919.75 314.85h0M920.30 314.87h0M920.85 314.88h0M921.40 314.90h0M921.95 314.91h0M922.50 314.93h0M923.05 314.94h0M923.60 314.95h0M924.15 314.97h0M924.70 314.98h0M925.25 314.99h0M925.80 315.00h0M926.35 315.01h0M926.90 315.02h0M927.45 315.03h0M928.00 315.04h0M928.55 315.05h0M929.10 315.05h0M929.65 315.06h0M930.20 315.07h0M930.75 315.08h0M931.30 315.08h0M931.85 315.09h0M932.40 315.09h0M932.95 315.10h0M933.50 315.10h0M934.05 315.10h0M934.60 315.11h0M935.15 315.11h0M935.70 315.11h0M936.25 315.11h0M936.80 315.12h0M937.35 315.12h0M937.90 315.12h0M938.45 315.12h0M939.00 315.11h0M939.55 315.11h0M940.10 315.11h0M940.65 315.11h0M941.20 315.10h0M941.75 315.10h0M942.30 315.09h0M942.85 315.09h0M943.40 315.08h0M943.95 315.07h0M944.50 315.06h0M945.05 315.06h0M945.60 315.05h0M946.15 315.04h0M946.70 315.03h0M947.25 315.02h0M947.80 315.00h0M948.35 314.99h0M948.90 314.98h0M949.45 314.97h0M950.00 314.96h0M950.55 314.94h0M951.10 314.93h0M951.65 314.92h0M952.20 314.90h0M952.75 314.89h0M953.30 314.87h0M953.85 314.86h0M954.40 314.84h0M954.95 314.83h0M955.50 314.81h0M956.05 314.80h0M956.60 314.78h0M957.15 314.77h0M957.70 314.75h0M958.25 314.73h0M958.80 314.72h0M959.35 314.70h0M959.90 314.69h0M960.45 314.67h0M961.00 314.65h0M961.55 314.64h0M962.10 314.62h0M962.65 314.61h0M963.20 314.59h0M963.75 314.57h0M964.30 314.56h0M964.85 314.54h0M965.40 314.53h0M965.95 314.51h0M966.50 314.50h0M967.05 314.48h0M967.60 314.47h0M968.15 314.45h0M968.70 314.44h0M969.25 314.43h0M969.80 314.41h0M970.35 314.40h0M970.90 314.39h0M971.45 314.38h0M972.00 314.37h0M972.55 314.35h0M973.10 314.34h0M973.65 314.33h0M974.20 314.32h0M974.75 314.31h0M975.30 314.31h0M975.85 314.30h0M976.40 314.29h0M976.95 314.28h0M977.50 314.28h0M978.05 314.27h0M978.60 314.27h0M979.15 314.26h0M979.70 314.26h0M980.25 314.26h0M980.80 314.25h0M981.35 314.25h0M981.90 314.25h0M982.45 314.25h0M983.00 314.25h0M983.55 314.26h0M984.10 314.26h0M984.65 314.26h0M985.20 314.27h0M985.75 314.28h0M986.30 314.28h0M986.85 314.29h0M987.40 314.30h0M987.95 314.31h0M988.50 314.32h0M989.05 314.33h0M989.60 314.35h0M990.15 314.36h0M990.70 314.37h0M991.25 314.39h0M991.80 314.40h0M992.35 314.42h0M992.90 314.44h0M993.45 314.45h0M994.00 314.47h0M994.55 314.49h0M995.10 314.51h0M995.65 314.53h0M996.20 314.55h0M996.75 314.57h0M997.30 314.60h0M997.85 314.62h0M998.40 314.64h0M998.95 314.67h0M999.50 314.69h0M1000.05 314.71h0M1000.60 314.74h0M1001.15 314.76h0M1001.70 314.79h0M1002.25 314.82h0M1002.80 314.84h0M1003.35 314.87h0M1003.90 314.90h0M1004.45 314.92h0M1005.00 314.95h0M1005.55 314.98h0M1006.10 315.01h0M1006.65 315.04h0M1007.20 315.06h0M1007.75 315.09h0" fill="none" stroke="#00ff00" stroke-width="4.9" stroke-linecap="round"/>

<polyline points="581.40,320.59 581.95,320.59 582.50,320.59 583.05,320.59 583.60,320.58 584.15,320.58 584.70,320.58 585.25,320.58 585.80,320.57 586.35,320.57 586.90,320.57 587.45,320.56 588.00,320.56 588.55,320.55 589.10,320.55 589.65,320.54 590.20,320.53 590.75,320.53 591.30,320.52 591.85,320.51 592.40,320.50 592.95,320.49 593.50,320.48 594.05,320.47 594.60,320.46 595.15,320.45 595.70,320.44 596.25,320.43 596.80,320.42 597.35,320.41 597.90,320.39 598.45,320.38 599.00,320.36 599.55,320.35 600.10,320.33 600.65,320.32 601.20,320.30 601.75,320.28 602.30,320.23 602.85,320.16 603.40,320.07 603.95,319.97 604.50,319.85 605.05,319.73 605.60,319.60 606.15,319.46 606.70,319.32 607.25,319.19 607.80,319.06 608.35,318.93 608.90,318.82 609.45,318.72 610.00,318.63 610.55,318.57 611.10,318.52 611.65,318.47 612.20,318.44 612.75,318.41 613.30,318.38 613.85,318.36 614.40,318.33 614.95,318.31 615.50,318.28 616.05,318.24 616.60,318.20 617.15,318.15 617.70,318.08 618.25,318.00 618.80,317.86 619.35,317.58 619.90,317.15 620.45,316.38 621.00,314.54 621.55,311.65 622.10,308.15 622.65,304.41 623.20,300.71 623.75,297.19 624.30,294.41 624.85,292.45 625.40,291.74 625.95,291.23 626.50,290.86 627.05,290.57 627.60,290.30 628.15,290.05 628.70,289.83 629.25,289.64 629.80,289.47 630.35,289.30 630.90,289.12 631.45,288.93 632.00,288.70 632.55,288.45 633.10,288.17 633.65,287.88 634.20,287.61 634.75,287.36 635.30,287.15 635.85,286.99 636.40,286.91 636.95,286.90 637.50,286.99 638.05,287.15 638.60,287.37 639.15,287.65 639.70,287.95 640.25,288.28 640.80,288.60 641.35,288.92 641.90,289.22 642.45,289.48 643.00,289.69 643.55,289.83 644.10,289.97 644.65,290.11 645.20,290.24 645.75,290.37 646.30,290.49 646.85,290.60 647.40,290.70 647.95,290.78 648.50,290.85 649.05,290.90 649.60,290.92 650.15,290.92 650.70,290.86 651.25,290.74 651.80,290.58 652.35,290.38 652.90,290.16 653.45,289.92 654.00,289.67 654.55,289.43 655.10,289.20 655.65,288.93 656.20,288.61 656.75,288.24 657.30,287.85 657.85,287.45 658.40,287.07 658.95,286.72 659.50,286.42 660.05,286.20 660.60,286.06 661.15,286.04 661.70,286.23 662.25,286.60 662.80,287.10 663.35,287.66 663.90,288.22 664.45,288.70 665.00,289.05 665.55,289.19 666.10,289.20 666.65,289.20 667.20,289.20 667.75,289.20 668.30,289.20 668.85,289.16 669.40,289.01 669.95,288.82 670.50,288.66 671.05,288.63 671.60,288.87 672.15,289.31 672.70,289.86 673.25,290.41 673.80,290.91 674.35,291.51 674.90,292.12 675.45,292.63 676.00,292.92 676.55,292.99 677.10,293.06 677.65,293.12 678.20,293.17 678.75,293.22 679.30,293.26 679.85,293.30 680.40,293.34 680.95,293.37 681.50,293.40 682.05,293.43 682.60,293.45 683.15,293.47 683.70,293.48 684.25,293.49 684.80,293.50 685.35,293.51 685.90,293.51 686.45,293.52 687.00,293.52 687.55,293.52 688.10,293.52 688.65,293.52 689.20,293.52 689.75,293.52 690.30,293.52 690.85,293.52 691.40,293.52 691.95,293.52 692.50,293.52 693.05,293.52 693.60,293.52 694.15,293.52 694.70,293.52 695.25,293.52 695.80,293.52 696.35,293.52 696.90,293.52 697.45,293.51 698.00,293.45 698.55,293.35 699.10,293.21 699.65,293.04 700.20,292.83 700.75,292.59 701.30,292.32 701.85,292.04 702.40,291.73 702.95,291.29 703.50,290.67 704.05,289.91 704.60,289.02 705.15,288.04 705.70,286.98 706.25,285.66 706.80,284.04 707.35,282.21 707.90,280.23 708.45,278.19 709.00,275.96 709.55,273.03 710.10,268.35 710.65,263.94 711.20,257.49 711.75,250.45 712.30,241.02 712.85,229.07 713.40,213.29 713.95,192.95 714.50,166.83 715.05,135.87 715.60,101.26 716.15,69.35 716.70,43.65 717.25,32.33 717.80,35.77 718.35,53.23 718.90,80.79 719.45,112.90 720.00,143.24 720.55,170.84 721.10,193.51 721.65,208.72 722.20,221.98 722.75,231.75 723.30,238.57 723.85,245.33 724.40,249.86 724.95,254.05 725.50,256.72 726.05,258.83 726.60,260.74 727.15,262.58 727.70,264.26 728.25,265.72 728.80,266.94 729.35,268.03 729.90,269.03 730.45,269.92 731.00,270.71 731.55,271.40 732.10,272.05 732.65,272.69 733.20,273.30 733.75,273.88 734.30,274.41 734.85,274.86 735.40,275.23 735.95,275.51 736.50,275.66 737.05,275.75 737.60,275.83 738.15,275.91 738.70,275.99 739.25,276.06 739.80,276.12 740.35,276.18 740.90,276.24 741.45,276.29 742.00,276.33 742.55,276.37 743.10,276.41 743.65,276.44 744.20,276.46 744.75,276.49 745.30,276.50 745.85,276.51 746.40,276.52 746.95,276.52 747.50,276.52 748.05,276.51 748.60,276.48 749.15,276.45 749.70,276.42 750.25,276.37 750.80,276.32 751.35,276.26 751.90,276.20 752.45,276.13 753.00,276.06 753.55,275.98 754.10,275.90 754.65,275.82 755.20,275.73 755.75,275.65 756.30,275.56 756.85,275.47 757.40,275.39 757.95,275.29 758.50,275.18 759.05,275.04 759.60,274.89 760.15,274.73 760.70,274.56 761.25,274.39 761.80,274.22 762.35,274.05 762.90,273.89 763.45,273.74 764.00,273.60 764.55,273.49 765.10,273.40 765.65,273.33 766.20,273.26 766.75,273.20 767.30,273.14 767.85,273.08 768.40,273.02 768.95,272.96 769.50,272.91 770.05,272.86 770.60,272.81 771.15,272.76 771.70,272.72 772.25,272.68 772.80,272.64 773.35,272.61 773.90,272.58 774.45,272.55 775.00,272.53 775.55,272.51 776.10,272.50 776.65,272.49 777.20,272.49 777.75,272.50 778.30,272.52 778.85,272.55 779.40,272.59 779.95,272.64 780.50,272.71 781.05,272.78 781.60,272.87 782.15,272.96 782.70,273.06 783.25,273.17 783.80,273.29 784.35,273.41 784.90,273.54 785.45,273.68 786.00,273.82 786.55,273.98 787.10,274.20 787.65,274.50 788.20,274.87 788.75,275.29 789.30,275.76 789.85,276.27 790.40,276.79 790.95,277.33 791.50,277.86 792.05,278.37 792.60,278.86 793.15,279.32 793.70,279.77 794.25,280.22 794.80,280.67 795.35,281.12 795.90,281.57 796.45,282.03 797.00,282.49 797.55,282.95 798.10,283.41 798.65,283.88 799.20,284.35 799.75,284.82 800.30,285.30 800.85,285.78 801.40,286.29 801.95,286.81 802.50,287.34 803.05,287.89 803.60,288.44 804.15,289.00 804.70,289.54 805.25,290.08 805.80,290.60 806.35,291.11 806.90,291.58 807.45,292.03 808.00,292.44 808.55,292.83 809.10,293.21 809.65,293.58 810.20,293.94 810.75,294.29 811.30,294.63 811.85,294.96 812.40,295.28 812.95,295.59 813.50,295.88 814.05,296.16 814.60,296.43 815.15,296.69 815.70,296.93 816.25,297.16 816.80,297.39 817.35,297.61 817.90,297.83 818.45,298.04 819.00,298.24 819.55,298.44 820.10,298.63 820.65,298.80 821.20,298.97 821.75,299.13 822.30,299.27 822.85,299.41 823.40,299.52 823.95,299.63 824.50,299.73 825.05,299.83 825.60,299.92 826.15,300.01 826.70,300.10 827.25,300.18 827.80,300.26 828.35,300.34 828.90,300.41 829.45,300.48 830.00,300.55 830.55,300.62 831.10,300.68 831.65,300.75 832.20,300.81 832.75,300.87 833.30,300.93 833.85,300.99 834.40,301.05 834.95,301.10 835.50,301.16 836.05,301.22 836.60,301.28 837.15,301.33 837.70,301.39 838.25,301.45 838.80,301.51 839.35,301.57 839.90,301.64 840.45,301.70 841.00,301.76 841.55,301.83 842.10,301.89 842.65,301.95 843.20,302.02 843.75,302.08 844.30,302.14 844.85,302.21 845.40,302.27 845.95,302.33 846.50,302.39 847.05,302.45 847.60,302.52 848.15,302.58 848.70,302.64 849.25,302.70 849.80,302.75 850.35,302.81 850.90,302.87 851.45,302.93 852.00,302.98 852.55,303.04 853.10,303.09 853.65,303.14 854.20,303.19 854.75,303.24 855.30,303.29 855.85,303.34 856.40,303.39 856.95,303.43 857.50,303.48 858.05,303.52 858.60,303.56 859.15,303.60 859.70,303.64 860.25,303.68 860.80,303.72 861.35,303.76 861.90,303.80 862.45,303.84 863.00,303.88 863.55,303.92 864.10,303.97 864.65,304.01 865.20,304.04 865.75,304.08 866.30,304.12 866.85,304.16 867.40,304.19 867.95,304.23 868.50,304.26 869.05,304.29 869.60,304.32 870.15,304.34 870.70,304.37 871.25,304.39 871.80,304.41 872.35,304.42 872.90,304.44 873.45,304.45 874.00,304.46 874.55,304.46 875.10,304.46 875.65,304.43 876.20,304.37 876.75,304.29 877.30,304.19 877.85,304.09 878.40,303.98 878.95,303.87 879.50,303.77 880.05,303.69 880.60,303.63 881.15,303.60 881.70,303.60 882.25,303.60 882.80,303.60 883.35,303.60 883.90,303.61 884.45,303.62 885.00,303.62 885.55,303.63 886.10,303.64 886.65,303.65 887.20,303.66 887.75,303.67 888.30,303.69 888.85,303.70 889.40,303.72 889.95,303.73 890.50,303.75 891.05,303.76 891.60,303.78 892.15,303.80 892.70,303.82 893.25,303.84 893.80,303.86 894.35,303.87 894.90,303.90 895.45,303.92 896.00,303.96 896.55,304.00 897.10,304.06 897.65,304.11 898.20,304.17 898.75,304.24 899.30,304.32 899.85,304.39 900.40,304.47 900.95,304.56 901.50,304.65 902.05,304.74 902.60,304.83 903.15,304.92 903.70,305.01 904.25,305.11 904.80,305.20 905.35,305.30 905.90,305.39 906.45,305.48 907.00,305.57 907.55,305.66 908.10,305.75 908.65,305.83 909.20,305.91 909.75,305.98 910.30,306.05 910.85,306.11 911.40,306.17 911.95,306.22 912.50,306.27 913.05,306.33 913.60,306.38 914.15,306.44 914.70,306.49 915.25,306.55 915.80,306.60 916.35,306.65 916.90,306.71 917.45,306.76 918.00,306.82 918.55,306.87 919.10,306.92 919.65,306.97 920.20,307.02 920.75,307.07 921.30,307.12 921.85,307.17 922.40,307.21 922.95,307.25 923.50,307.30 924.05,307.34 924.60,307.37 925.15,307.41 925.70,307.44 926.25,307.47 926.80,307.50 927.35,307.53 927.90,307.55 928.45,307.57 929.00,307.59 929.55,307.60 930.10,307.61 930.65,307.62 931.20,307.63 931.75,307.63 932.30,307.63 932.85,307.63 933.40,307.62 933.95,307.62 934.50,307.61 935.05,307.61 935.60,307.60 936.15,307.60 936.70,307.59 937.25,307.58 937.80,307.57 938.35,307.56 938.90,307.55 939.45,307.54 940.00,307.53 940.55,307.52 941.10,307.51 941.65,307.49 942.20,307.48 942.75,307.46 943.30,307.45 943.85,307.44 944.40,307.42 944.95,307.41 945.50,307.39 946.05,307.37 946.60,307.36 947.15,307.34 947.70,307.32 948.25,307.31 948.80,307.29 949.35,307.27 949.90,307.26 950.45,307.24 951.00,307.22 951.55,307.21 952.10,307.19 952.65,307.17 953.20,307.16 953.75,307.14 954.30,307.12 954.85,307.11 955.40,307.09 955.95,307.08 956.50,307.06 957.05,307.05 957.60,307.03 958.15,307.01 958.70,306.99 959.25,306.97 959.80,306.95 960.35,306.93 960.90,306.91 961.45,306.89 962.00,306.87 962.55,306.84 963.10,306.82 963.65,306.80 964.20,306.77 964.75,306.75 965.30,306.72 965.85,306.70 966.40,306.67 966.95,306.65 967.50,306.62 968.05,306.59 968.60,306.57 969.15,306.54 969.70,306.52 970.25,306.50 970.80,306.47 971.35,306.45 971.90,306.43 972.45,306.40 973.00,306.38 973.55,306.36 974.10,306.34 974.65,306.32 975.20,306.31 975.75,306.29 976.30,306.27 976.85,306.26 977.40,306.25 977.95,306.23 978.50,306.22 979.05,306.21 979.60,306.20 980.15,306.20 980.70,306.19 981.25,306.19 981.80,306.19 982.35,306.19 982.90,306.19 983.45,306.19 984.00,306.19 984.55,306.20 985.10,306.20 985.65,306.20 986.20,306.21 986.75,306.22 987.30,306.22 987.85,306.23 988.40,306.24 988.95,306.25 989.50,306.26 990.05,306.27 990.60,306.28 991.15,306.29 991.70,306.30 992.25,306.32 992.80,306.33 993.35,306.35 993.90,306.36 994.45,306.38 995.00,306.40 995.55,306.41 996.10,306.43 996.65,306.45 997.20,306.47 997.75,306.50 998.30,306.52 998.85,306.54 999.40,306.56 999.95,306.59 1000.50,306.61 1001.05,306.64 1001.60,306.67 1002.15,306.69 1002.70,306.72 1003.25,306.75 1003.80,306.78 1004.35,306.81 1004.90,306.84 1005.45,306.88 1006.00,306.91 1006.55,306.94 1007.10,306.98 1007.65,307.02 1008.20,307.05" fill="none" stroke="#ff0000" stroke-width="0.8" stroke-linejoin="round"/>
<path d="M581.40 320.59h0M581.95 320.59h0M582.50 320.59h0M583.05 320.59h0M583.60 320.58h0M584.15 320.58h0M584.70 320.58h0M585.25 320.58h0M585.80 320.57h0M586.35 320.57h0M586.90 320.57h0M587.45 320.56h0M588.00 320.56h0M588.55 320.55h0M589.10 320.55h0M589.65 320.54h0M590.20 320.53h0M590.75 320.53h0M591.30 320.52h0M591.85 320.51h0M592.40 320.50h0M592.95 320.49h0M593.50 320.48h0M594.05 320.47h0M594.60 320.46h0M595.15 320.45h0M595.70 320.44h0M596.25 320.43h0M596.80 320.42h0M597.35 320.41h0M597.90 320.39h0M598.45 320.38h0M599.00 320.36h0M599.55 320.35h0M600.10 320.33h0M600.65 320.32h0M601.20 320.30h0M601.75 320.28h0M602.30 320.23h0M602.85 320.16h0M603.40 320.07h0M603.95 319.97h0M604.50 319.85h0M605.05 319.73h0M605.60 319.60h0M606.15 319.46h0M606.70 319.32h0M607.25 319.19h0M607.80 319.06h0M608.35 318.93h0M608.90 318.82h0M609.45 318.72h0M610.00 318.63h0M610.55 318.57h0M611.10 318.52h0M611.65 318.47h0M612.20 318.44h0M612.75 318.41h0M613.30 318.38h0M613.85 318.36h0M614.40 318.33h0M614.95 318.31h0M615.50 318.28h0M616.05 318.24h0M616.60 318.20h0M617.15 318.15h0M617.70 318.08h0M618.25 318.00h0M618.80 317.86h0M619.35 317.58h0M619.90 317.15h0M620.45 316.38h0M621.00 314.54h0M621.55 311.65h0M622.10 308.15h0M622.65 304.41h0M623.20 300.71h0M623.75 297.19h0M624.30 294.41h0M624.85 292.45h0M625.40 291.74h0M625.95 291.23h0M626.50 290.86h0M627.05 290.57h0M627.60 290.30h0M628.15 290.05h0M628.70 289.83h0M629.25 289.64h0M629.80 289.47h0M630.35 289.30h0M630.90 289.12h0M631.45 288.93h0M632.00 288.70h0M632.55 288.45h0M633.10 288.17h0M633.65 287.88h0M634.20 287.61h0M634.75 287.36h0M635.30 287.15h0M635.85 286.99h0M636.40 286.91h0M636.95 286.90h0M637.50 286.99h0M638.05 287.15h0M638.60 287.37h0M639.15 287.65h0M639.70 287.95h0M640.25 288.28h0M640.80 288.60h0M641.35 288.92h0M641.90 289.22h0M642.45 289.48h0M643.00 289.69h0M643.55 289.83h0M644.10 289.97h0M644.65 290.11h0M645.20 290.24h0M645.75 290.37h0M646.30 290.49h0M646.85 290.60h0M647.40 290.70h0M647.95 290.78h0M648.50 290.85h0M649.05 290.90h0M649.60 290.92h0M650.15 290.92h0M650.70 290.86h0M651.25 290.74h0M651.80 290.58h0M652.35 290.38h0M652.90 290.16h0M653.45 289.92h0M654.00 289.67h0M654.55 289.43h0M655.10 289.20h0M655.65 288.93h0M656.20 288.61h0M656.75 288.24h0M657.30 287.85h0M657.85 287.45h0M658.40 287.07h0M658.95 286.72h0M659.50 286.42h0M660.05 286.20h0M660.60 286.06h0M661.15 286.04h0M661.70 286.23h0M662.25 286.60h0M662.80 287.10h0M663.35 287.66h0M663.90 288.22h0M664.45 288.70h0M665.00 289.05h0M665.55 289.19h0M666.10 289.20h0M666.65 289.20h0M667.20 289.20h0M667.75 289.20h0M668.30 289.20h0M668.85 289.16h0M669.40 289.01h0M669.95 288.82h0M670.50 288.66h0M671.05 288.63h0M671.60 288.87h0M672.15 289.31h0M672.70 289.86h0M673.25 290.41h0M673.80 290.91h0M674.35 291.51h0M674.90 292.12h0M675.45 292.63h0M676.00 292.92h0M676.55 292.99h0M677.10 293.06h0M677.65 293.12h0M678.20 293.17h0M678.75 293.22h0M679.30 293.26h0M679.85 293.30h0M680.40 293.34h0M680.95 293.37h0M681.50 293.40h0M682.05 293.43h0M682.60 293.45h0M683.15 293.47h0M683.70 293.48h0M684.25 293.49h0M684.80 293.50h0M685.35 293.51h0M685.90 293.51h0M686.45 293.52h0M687.00 293.52h0M687.55 293.52h0M688.10 293.52h0M688.65 293.52h0M689.20 293.52h0M689.75 293.52h0M690.30 293.52h0M690.85 293.52h0M691.40 293.52h0M691.95 293.52h0M692.50 293.52h0M693.05 293.52h0M693.60 293.52h0M694.15 293.52h0M694.70 293.52h0M695.25 293.52h0M695.80 293.52h0M696.35 293.52h0M696.90 293.52h0M697.45 293.51h0M698.00 293.45h0M698.55 293.35h0M699.10 293.21h0M699.65 293.04h0M700.20 292.83h0M700.75 292.59h0M701.30 292.32h0M701.85 292.04h0M702.40 291.73h0M702.95 291.29h0M703.50 290.67h0M704.05 289.91h0M704.60 289.02h0M705.15 288.04h0M705.70 286.98h0M706.25 285.66h0M706.80 284.04h0M707.35 282.21h0M707.90 280.23h0M708.45 278.19h0M709.00 275.96h0M709.55 273.03h0M710.10 268.35h0M710.65 263.94h0M711.20 257.49h0M711.75 250.45h0M712.30 241.02h0M712.85 229.07h0M713.40 213.29h0M713.95 192.95h0M714.50 166.83h0M715.05 135.87h0M715.60 101.26h0M716.15 69.35h0M716.70 43.65h0M717.25 32.33h0M717.80 35.77h0M718.35 53.23h0M718.90 80.79h0M719.45 112.90h0M720.00 143.24h0M720.55 170.84h0M721.10 193.51h0M721.65 208.72h0M722.20 221.98h0M722.75 231.75h0M723.30 238.57h0M723.85 245.33h0M724.40 249.86h0M724.95 254.05h0M725.50 256.72h0M726.05 258.83h0M726.60 260.74h0M727.15 262.58h0M727.70 264.26h0M728.25 265.72h0M728.80 266.94h0M729.35 268.03h0M729.90 269.03h0M730.45 269.92h0M731.00 270.71h0M731.55 271.40h0M732.10 272.05h0M732.65 272.69h0M733.20 273.30h0M733.75 273.88h0M734.30 274.41h0M734.85 274.86h0M735.40 275.23h0M735.95 275.51h0M736.50 275.66h0M737.05 275.75h0M737.60 275.83h0M738.15 275.91h0M738.70 275.99h0M739.25 276.06h0M739.80 276.12h0M740.35 276.18h0M740.90 276.24h0M741.45 276.29h0M742.00 276.33h0M742.55 276.37h0M743.10 276.41h0M743.65 276.44h0M744.20 276.46h0M744.75 276.49h0M745.30 276.50h0M745.85 276.51h0M746.40 276.52h0M746.95 276.52h0M747.50 276.52h0M748.05 276.51h0M748.60 276.48h0M749.15 276.45h0M749.70 276.42h0M750.25 276.37h0M750.80 276.32h0M751.35 276.26h0M751.90 276.20h0M752.45 276.13h0M753.00 276.06h0M753.55 275.98h0M754.10 275.90h0M754.65 275.82h0M755.20 275.73h0M755.75 275.65h0M756.30 275.56h0M756.85 275.47h0M757.40 275.39h0M757.95 275.29h0M758.50 275.18h0M759.05 275.04h0M759.60 274.89h0M760.15 274.73h0M760.70 274.56h0M761.25 274.39h0M761.80 274.22h0M762.35 274.05h0M762.90 273.89h0M763.45 273.74h0M764.00 273.60h0M764.55 273.49h0M765.10 273.40h0M765.65 273.33h0M766.20 273.26h0M766.75 273.20h0M767.30 273.14h0M767.85 273.08h0M768.40 273.02h0M768.95 272.96h0M769.50 272.91h0M770.05 272.86h0M770.60 272.81h0M771.15 272.76h0M771.70 272.72h0M772.25 272.68h0M772.80 272.64h0M773.35 272.61h0M773.90 272.58h0M774.45 272.55h0M775.00 272.53h0M775.55 272.51h0M776.10 272.50h0M776.65 272.49h0M777.20 272.49h0M777.75 272.50h0M778.30 272.52h0M778.85 272.55h0M779.40 272.59h0M779.95 272.64h0M780.50 272.71h0M781.05 272.78h0M781.60 272.87h0M782.15 272.96h0M782.70 273.06h0M783.25 273.17h0M783.80 273.29h0M784.35 273.41h0M784.90 273.54h0M785.45 273.68h0M786.00 273.82h0M786.55 273.98h0M787.10 274.20h0M787.65 274.50h0M788.20 274.87h0M788.75 275.29h0M789.30 275.76h0M789.85 276.27h0M790.40 276.79h0M790.95 277.33h0M791.50 277.86h0M792.05 278.37h0M792.60 278.86h0M793.15 279.32h0M793.70 279.77h0M794.25 280.22h0M794.80 280.67h0M795.35 281.12h0M795.90 281.57h0M796.45 282.03h0M797.00 282.49h0M797.55 282.95h0M798.10 283.41h0M798.65 283.88h0M799.20 284.35h0M799.75 284.82h0M800.30 285.30h0M800.85 285.78h0M801.40 286.29h0M801.95 286.81h0M802.50 287.34h0M803.05 287.89h0M803.60 288.44h0M804.15 289.00h0M804.70 289.54h0M805.25 290.08h0M805.80 290.60h0M806.35 291.11h0M806.90 291.58h0M807.45 292.03h0M808.00 292.44h0M808.55 292.83h0M809.10 293.21h0M809.65 293.58h0M810.20 293.94h0M810.75 294.29h0M811.30 294.63h0M811.85 294.96h0M812.40 295.28h0M812.95 295.59h0M813.50 295.88h0M814.05 296.16h0M814.60 296.43h0M815.15 296.69h0M815.70 296.93h0M816.25 297.16h0M816.80 297.39h0M817.35 297.61h0M817.90 297.83h0M818.45 298.04h0M819.00 298.24h0M819.55 298.44h0M820.10 298.63h0M820.65 298.80h0M821.20 298.97h0M821.75 299.13h0M822.30 299.27h0M822.85 299.41h0M823.40 299.52h0M823.95 299.63h0M824.50 299.73h0M825.05 299.83h0M825.60 299.92h0M826.15 300.01h0M826.70 300.10h0M827.25 300.18h0M827.80 300.26h0M828.35 300.34h0M828.90 300.41h0M829.45 300.48h0M830.00 300.55h0M830.55 300.62h0M831.10 300.68h0M831.65 300.75h0M832.20 300.81h0M832.75 300.87h0M833.30 300.93h0M833.85 300.99h0M834.40 301.05h0M834.95 301.10h0M835.50 301.16h0M836.05 301.22h0M836.60 301.28h0M837.15 301.33h0M837.70 301.39h0M838.25 301.45h0M838.80 301.51h0M839.35 301.57h0M839.90 301.64h0M840.45 301.70h0M841.00 301.76h0M841.55 301.83h0M842.10 301.89h0M842.65 301.95h0M843.20 302.02h0M843.75 302.08h0M844.30 302.14h0M844.85 302.21h0M845.40 302.27h0M845.95 302.33h0M846.50 302.39h0M847.05 302.45h0M847.60 302.52h0M848.15 302.58h0M848.70 302.64h0M849.25 302.70h0M849.80 302.75h0M850.35 302.81h0M850.90 302.87h0M851.45 302.93h0M852.00 302.98h0M852.55 303.04h0M853.10 303.09h0M853.65 303.14h0M854.20 303.19h0M854.75 303.24h0M855.30 303.29h0M855.85 303.34h0M856.40 303.39h0M856.95 303.43h0M857.50 303.48h0M858.05 303.52h0M858.60 303.56h0M859.15 303.60h0M859.70 303.64h0M860.25 303.68h0M860.80 303.72h0M861.35 303.76h0M861.90 303.80h0M862.45 303.84h0M863.00 303.88h0M863.55 303.92h0M864.10 303.97h0M864.65 304.01h0M865.20 304.04h0M865.75 304.08h0M866.30 304.12h0M866.85 304.16h0M867.40 304.19h0M867.95 304.23h0M868.50 304.26h0M869.05 304.29h0M869.60 304.32h0M870.15 304.34h0M870.70 304.37h0M871.25 304.39h0M871.80 304.41h0M872.35 304.42h0M872.90 304.44h0M873.45 304.45h0M874.00 304.46h0M874.55 304.46h0M875.10 304.46h0M875.65 304.43h0M876.20 304.37h0M876.75 304.29h0M877.30 304.19h0M877.85 304.09h0M878.40 303.98h0M878.95 303.87h0M879.50 303.77h0M880.05 303.69h0M880.60 303.63h0M881.15 303.60h0M881.70 303.60h0M882.25 303.60h0M882.80 303.60h0M883.35 303.60h0M883.90 303.61h0M884.45 303.62h0M885.00 303.62h0M885.55 303.63h0M886.10 303.64h0M886.65 303.65h0M887.20 303.66h0M887.75 303.67h0M888.30 303.69h0M888.85 303.70h0M889.40 303.72h0M889.95 303.73h0M890.50 303.75h0M891.05 303.76h0M891.60 303.78h0M892.15 303.80h0M892.70 303.82h0M893.25 303.84h0M893.80 303.86h0M894.35 303.87h0M894.90 303.90h0M895.45 303.92h0M896.00 303.96h0M896.55 304.00h0M897.10 304.06h0M897.65 304.11h0M898.20 304.17h0M898.75 304.24h0M899.30 304.32h0M899.85 304.39h0M900.40 304.47h0M900.95 304.56h0M901.50 304.65h0M902.05 304.74h0M902.60 304.83h0M903.15 304.92h0M903.70 305.01h0M904.25 305.11h0M904.80 305.20h0M905.35 305.30h0M905.90 305.39h0M906.45 305.48h0M907.00 305.57h0M907.55 305.66h0M908.10 305.75h0M908.65 305.83h0M909.20 305.91h0M909.75 305.98h0M910.30 306.05h0M910.85 306.11h0M911.40 306.17h0M911.95 306.22h0M912.50 306.27h0M913.05 306.33h0M913.60 306.38h0M914.15 306.44h0M914.70 306.49h0M915.25 306.55h0M915.80 306.60h0M916.35 306.65h0M916.90 306.71h0M917.45 306.76h0M918.00 306.82h0M918.55 306.87h0M919.10 306.92h0M919.65 306.97h0M920.20 307.02h0M920.75 307.07h0M921.30 307.12h0M921.85 307.17h0M922.40 307.21h0M922.95 307.25h0M923.50 307.30h0M924.05 307.34h0M924.60 307.37h0M925.15 307.41h0M925.70 307.44h0M926.25 307.47h0M926.80 307.50h0M927.35 307.53h0M927.90 307.55h0M928.45 307.57h0M929.00 307.59h0M929.55 307.60h0M930.10 307.61h0M930.65 307.62h0M931.20 307.63h0M931.75 307.63h0M932.30 307.63h0M932.85 307.63h0M933.40 307.62h0M933.95 307.62h0M934.50 307.61h0M935.05 307.61h0M935.60 307.60h0M936.15 307.60h0M936.70 307.59h0M937.25 307.58h0M937.80 307.57h0M938.35 307.56h0M938.90 307.55h0M939.45 307.54h0M940.00 307.53h0M940.55 307.52h0M941.10 307.51h0M941.65 307.49h0M942.20 307.48h0M942.75 307.46h0M943.30 307.45h0M943.85 307.44h0M944.40 307.42h0M944.95 307.41h0M945.50 307.39h0M946.05 307.37h0M946.60 307.36h0M947.15 307.34h0M947.70 307.32h0M948.25 307.31h0M948.80 307.29h0M949.35 307.27h0M949.90 307.26h0M950.45 307.24h0M951.00 307.22h0M951.55 307.21h0M952.10 307.19h0M952.65 307.17h0M953.20 307.16h0M953.75 307.14h0M954.30 307.12h0M954.85 307.11h0M955.40 307.09h0M955.95 307.08h0M956.50 307.06h0M957.05 307.05h0M957.60 307.03h0M958.15 307.01h0M958.70 306.99h0M959.25 306.97h0M959.80 306.95h0M960.35 306.93h0M960.90 306.91h0M961.45 306.89h0M962.00 306.87h0M962.55 306.84h0M963.10 306.82h0M963.65 306.80h0M964.20 306.77h0M964.75 306.75h0M965.30 306.72h0M965.85 306.70h0M966.40 306.67h0M966.95 306.65h0M967.50 306.62h0M968.05 306.59h0M968.60 306.57h0M969.15 306.54h0M969.70 306.52h0M970.25 306.50h0M970.80 306.47h0M971.35 306.45h0M971.90 306.43h0M972.45 306.40h0M973.00 306.38h0M973.55 306.36h0M974.10 306.34h0M974.65 306.32h0M975.20 306.31h0M975.75 306.29h0M976.30 306.27h0M976.85 306.26h0M977.40 306.25h0M977.95 306.23h0M978.50 306.22h0M979.05 306.21h0M979.60 306.20h0M980.15 306.20h0M980.70 306.19h0M981.25 306.19h0M981.80 306.19h0M982.35 306.19h0M982.90 306.19h0M983.45 306.19h0M984.00 306.19h0M984.55 306.20h0M985.10 306.20h0M985.65 306.20h0M986.20 306.21h0M986.75 306.22h0M987.30 306.22h0M987.85 306.23h0M988.40 306.24h0M988.95 306.25h0M989.50 306.26h0M990.05 306.27h0M990.60 306.28h0M991.15 306.29h0M991.70 306.30h0M992.25 306.32h0M992.80 306.33h0M993.35 306.35h0M993.90 306.36h0M994.45 306.38h0M995.00 306.40h0M995.55 306.41h0M996.10 306.43h0M996.65 306.45h0M997.20 306.47h0M997.75 306.50h0M998.30 306.52h0M998.85 306.54h0M999.40 306.56h0M999.95 306.59h0M1000.50 306.61h0M1001.05 306.64h0M1001.60 306.67h0M1002.15 306.69h0M1002.70 306.72h0M1003.25 306.75h0M1003.80 306.78h0M1004.35 306.81h0M1004.90 306.84h0M1005.45 306.88h0M1006.00 306.91h0M1006.55 306.94h0M1007.10 306.98h0M1007.65 307.02h0M1008.20 307.05h0" fill="none" stroke="#ff0000" stroke-width="4.9" stroke-linecap="round"/>

</g>
<rect x="60.6" y="11.5" width="418.50" height="309.50" fill="none" stroke="#000" stroke-width="1.25"/>
<path d="M54.00 318.30H60.6M57.00 304.23H60.6M54.00 290.15H60.6M57.00 276.07H60.6M54.00 262.00H60.6M57.00 247.93H60.6M54.00 233.85H60.6M57.00 219.78H60.6M54.00 205.70H60.6M57.00 191.62H60.6M54.00 177.55H60.6M57.00 163.48H60.6M54.00 149.40H60.6M57.00 135.33H60.6M54.00 121.25H60.6M57.00 107.18H60.6M54.00 93.10H60.6M57.00 79.03H60.6M54.00 64.95H60.6M57.00 50.88H60.6M54.00 36.80H60.6M57.00 22.73H60.6M60.60 321.0V324.60M82.63 321.0V328.00M104.65 321.0V324.60M126.68 321.0V328.00M148.71 321.0V324.60M170.73 321.0V328.00M192.76 321.0V324.60M214.78 321.0V328.00M236.81 321.0V324.60M258.84 321.0V328.00M280.86 321.0V324.60M302.89 321.0V328.00M324.92 321.0V324.60M346.94 321.0V328.00M368.97 321.0V324.60M390.99 321.0V328.00M413.02 321.0V324.60M435.05 321.0V328.00M457.07 321.0V324.60M479.10 321.0V328.00" stroke="#000" stroke-width="1.25" fill="none"/>
<text transform="translate(50.90 322.40) scale(1.04 1)" font-size="15.3" text-anchor="end">0</text>
<text transform="translate(50.90 294.25) scale(1.04 1)" font-size="15.3" text-anchor="end">10</text>
<text transform="translate(50.90 266.10) scale(1.04 1)" font-size="15.3" text-anchor="end">20</text>
<text transform="translate(50.90 237.95) scale(1.04 1)" font-size="15.3" text-anchor="end">30</text>
<text transform="translate(50.90 209.80) scale(1.04 1)" font-size="15.3" text-anchor="end">40</text>
<text transform="translate(50.90 181.65) scale(1.04 1)" font-size="15.3" text-anchor="end">50</text>
<text transform="translate(50.90 153.50) scale(1.04 1)" font-size="15.3" text-anchor="end">60</text>
<text transform="translate(50.90 125.35) scale(1.04 1)" font-size="15.3" text-anchor="end">70</text>
<text transform="translate(50.90 97.20) scale(1.04 1)" font-size="15.3" text-anchor="end">80</text>
<text transform="translate(50.90 69.05) scale(1.04 1)" font-size="15.3" text-anchor="end">90</text>
<text transform="translate(50.90 40.90) scale(1.04 1)" font-size="15.3" text-anchor="end">100</text>
<text transform="translate(82.63 342.90) scale(1.04 1)" font-size="15.3" text-anchor="middle">100</text>
<text transform="translate(126.68 342.90) scale(1.04 1)" font-size="15.3" text-anchor="middle">200</text>
<text transform="translate(170.73 342.90) scale(1.04 1)" font-size="15.3" text-anchor="middle">300</text>
<text transform="translate(214.78 342.90) scale(1.04 1)" font-size="15.3" text-anchor="middle">400</text>
<text transform="translate(258.84 342.90) scale(1.04 1)" font-size="15.3" text-anchor="middle">500</text>
<text transform="translate(302.89 342.90) scale(1.04 1)" font-size="15.3" text-anchor="middle">600</text>
<text transform="translate(346.94 342.90) scale(1.04 1)" font-size="15.3" text-anchor="middle">700</text>
<text transform="translate(390.99 342.90) scale(1.04 1)" font-size="15.3" text-anchor="middle">800</text>
<text transform="translate(435.05 342.90) scale(1.04 1)" font-size="15.3" text-anchor="middle">900</text>
<text transform="translate(479.10 342.90) scale(1.04 1)" font-size="15.3" text-anchor="middle">1000</text>

<rect x="581.4" y="6.4" width="426.80" height="316.60" fill="none" stroke="#000" stroke-width="1.25"/>
<path d="M574.80 320.30H581.4M577.80 305.90H581.4M574.80 291.50H581.4M577.80 277.10H581.4M574.80 262.70H581.4M577.80 248.30H581.4M574.80 233.90H581.4M577.80 219.50H581.4M574.80 205.10H581.4M577.80 190.70H581.4M574.80 176.30H581.4M577.80 161.90H581.4M574.80 147.50H581.4M577.80 133.10H581.4M574.80 118.70H581.4M577.80 104.30H581.4M574.80 89.90H581.4M577.80 75.50H581.4M574.80 61.10H581.4M577.80 46.70H581.4M574.80 32.30H581.4M577.80 17.90H581.4M581.40 323.0V330.00M605.11 323.0V326.60M628.82 323.0V330.00M652.53 323.0V326.60M676.24 323.0V330.00M699.96 323.0V326.60M723.67 323.0V330.00M747.38 323.0V326.60M771.09 323.0V330.00M794.80 323.0V326.60M818.51 323.0V330.00M842.22 323.0V326.60M865.93 323.0V330.00M889.64 323.0V326.60M913.36 323.0V330.00M937.07 323.0V326.60M960.78 323.0V330.00M984.49 323.0V326.60M1008.20 323.0V330.00" stroke="#000" stroke-width="1.25" fill="none"/>
<text transform="translate(571.70 324.49) scale(1.04 1)" font-size="15.65" text-anchor="end">0</text>
<text transform="translate(571.70 295.69) scale(1.04 1)" font-size="15.65" text-anchor="end">10</text>
<text transform="translate(571.70 266.89) scale(1.04 1)" font-size="15.65" text-anchor="end">20</text>
<text transform="translate(571.70 238.09) scale(1.04 1)" font-size="15.65" text-anchor="end">30</text>
<text transform="translate(571.70 209.29) scale(1.04 1)" font-size="15.65" text-anchor="end">40</text>
<text transform="translate(571.70 180.49) scale(1.04 1)" font-size="15.65" text-anchor="end">50</text>
<text transform="translate(571.70 151.69) scale(1.04 1)" font-size="15.65" text-anchor="end">60</text>
<text transform="translate(571.70 122.89) scale(1.04 1)" font-size="15.65" text-anchor="end">70</text>
<text transform="translate(571.70 94.09) scale(1.04 1)" font-size="15.65" text-anchor="end">80</text>
<text transform="translate(571.70 65.29) scale(1.04 1)" font-size="15.65" text-anchor="end">90</text>
<text transform="translate(571.70 36.49) scale(1.04 1)" font-size="15.65" text-anchor="end">100</text>
<text transform="translate(581.40 345.50) scale(1.04 1)" font-size="15.65" text-anchor="middle">50</text>
<text transform="translate(628.82 345.50) scale(1.04 1)" font-size="15.65" text-anchor="middle">100</text>
<text transform="translate(676.24 345.50) scale(1.04 1)" font-size="15.65" text-anchor="middle">150</text>
<text transform="translate(723.67 345.50) scale(1.04 1)" font-size="15.65" text-anchor="middle">200</text>
<text transform="translate(771.09 345.50) scale(1.04 1)" font-size="15.65" text-anchor="middle">250</text>
<text transform="translate(818.51 345.50) scale(1.04 1)" font-size="15.65" text-anchor="middle">300</text>
<text transform="translate(865.93 345.50) scale(1.04 1)" font-size="15.65" text-anchor="middle">350</text>
<text transform="translate(913.36 345.50) scale(1.04 1)" font-size="15.65" text-anchor="middle">400</text>
<text transform="translate(960.78 345.50) scale(1.04 1)" font-size="15.65" text-anchor="middle">450</text>
<text transform="translate(1008.20 345.50) scale(1.04 1)" font-size="15.65" text-anchor="middle">500</text>

<text transform="translate(270.20 368.00) scale(1.06 1)" font-size="15.3" text-anchor="middle">Raman shift (cm<tspan dy="-7.65" font-size="14.08">-1</tspan><tspan dy="7.65">)</tspan></text>
<text transform="translate(795.00 368.90) scale(1.06 1)" font-size="15.65" text-anchor="middle">Raman shift (cm<tspan dy="-7.83" font-size="14.40">-1</tspan><tspan dy="7.83">)</tspan></text>
<text transform="translate(15.80 177.50) rotate(-90) scale(1.07 1)" font-size="15.5" text-anchor="middle">Normalized Intensity (a.u.)</text>
<text transform="translate(535.80 177.00) rotate(-90) scale(1.068 1)" font-size="15.85" text-anchor="middle">Normalized Intensity (a.u.)</text>
<text transform="translate(269.80 388.70) scale(1.08 1)" font-size="13.3" text-anchor="middle" font-weight="bold" stroke="#000" stroke-width="0.25">(a)</text>
<text transform="translate(795.20 389.60) scale(1.08 1)" font-size="13.6" text-anchor="middle" font-weight="bold" stroke="#000" stroke-width="0.25">(b)</text>
<text transform="translate(159.40 27.40) scale(0.94 1)" font-size="16.2" text-anchor="start">A</text><text transform="translate(171.60 34.20) scale(0.86 1)" font-size="10.4" text-anchor="start">1g</text>
<line x1="184.2" y1="15.2" x2="184.2" y2="22.9" stroke="#000" stroke-width="0.9"/><polygon points="181.79999999999998,21.9 186.6,21.9 184.2,31.0" fill="#000"/>

<text transform="translate(172.20 111.20) scale(1.0 1)" font-size="13" text-anchor="middle">*</text>
<line x1="172.4" y1="116.7" x2="172.4" y2="124.4" stroke="#000" stroke-width="0.9"/><polygon points="170.0,123.4 174.8,123.4 172.4,132.5" fill="#000"/>

<text transform="translate(143.90 252.90) scale(0.85 1)" font-size="16.0" text-anchor="start">E</text><text transform="translate(152.00 260.50) scale(0.95 1)" font-size="10.4" text-anchor="start">g</text>
<line x1="147.7" y1="263.6" x2="147.7" y2="271.1" stroke="#000" stroke-width="0.9"/><polygon points="145.29999999999998,270.1 150.1,270.1 147.7,279.2" fill="#000"/>

<text transform="translate(690.90 21.80) scale(0.97 1)" font-size="16.2" text-anchor="start">A</text><text transform="translate(703.00 29.20) scale(0.95 1)" font-size="10.8" text-anchor="start">1g</text>
<line x1="716.4" y1="11.1" x2="716.4" y2="19.4" stroke="#000" stroke-width="0.9"/><polygon points="714.0,18.4 718.8,18.4 716.4,27.5" fill="#000"/>

<text transform="translate(667.70 252.00) scale(0.86 1)" font-size="16.2" text-anchor="start">E</text><text transform="translate(676.20 260.30) scale(0.95 1)" font-size="10.6" text-anchor="start">g</text>
<line x1="672.0" y1="263.3" x2="672.0" y2="271.1" stroke="#000" stroke-width="0.9"/><polygon points="669.6,270.1 674.4,270.1 672.0,279.2" fill="#000"/>

<rect x="354.2" y="19.6" width="114.60" height="67.90" fill="#fff" stroke="#333" stroke-width="0.8"/>
<text transform="translate(358.00 35.20) scale(0.93 1)" font-size="14.2" text-anchor="start" font-weight="bold" stroke="#000" stroke-width="0.25">ZrS<tspan dy="6.1" font-size="9.94">2</tspan></text>
<path d="M357.7 55.8H369.3M379.7 55.8H391.7" stroke="#00ff00" stroke-width="0.8" fill="none"/>
<circle cx="374.5" cy="55.8" r="2.3" fill="#00ff00"/>
<path d="M357.7 77.6H369.3M379.7 77.6H391.7" stroke="#ff0000" stroke-width="0.8" fill="none"/>
<circle cx="374.5" cy="77.6" r="2.3" fill="#ff0000"/>
<text transform="translate(394.60 60.90) scale(1.085 1)" font-size="15.3" text-anchor="start">Cleaved</text>
<text transform="translate(394.60 83.20) scale(1.085 1)" font-size="15.3" text-anchor="start">Uncleaved</text>
<rect x="870.5" y="16.6" width="119.90" height="70.70" fill="#fff" stroke="#333" stroke-width="0.8"/>
<text transform="translate(877.00 32.80) scale(1.0 1)" font-size="14.6" text-anchor="start" font-weight="bold" stroke="#000" stroke-width="0.25">ZrSe<tspan dy="6.1" font-size="10.22">2</tspan></text>
<path d="M876.2 54.5H888.5M898.9000000000001 54.5H911.4" stroke="#00ff00" stroke-width="0.8" fill="none"/>
<circle cx="893.7" cy="54.5" r="2.3" fill="#00ff00"/>
<path d="M876.2 77.3H888.5M898.9000000000001 77.3H911.4" stroke="#ff0000" stroke-width="0.8" fill="none"/>
<circle cx="893.7" cy="77.3" r="2.3" fill="#ff0000"/>
<text transform="translate(915.60 59.90) scale(1.065 1)" font-size="15.65" text-anchor="start">Cleaved</text>
<text transform="translate(915.60 83.00) scale(1.065 1)" font-size="15.65" text-anchor="start">Uncleaved</text>
</svg>
</body></html>
